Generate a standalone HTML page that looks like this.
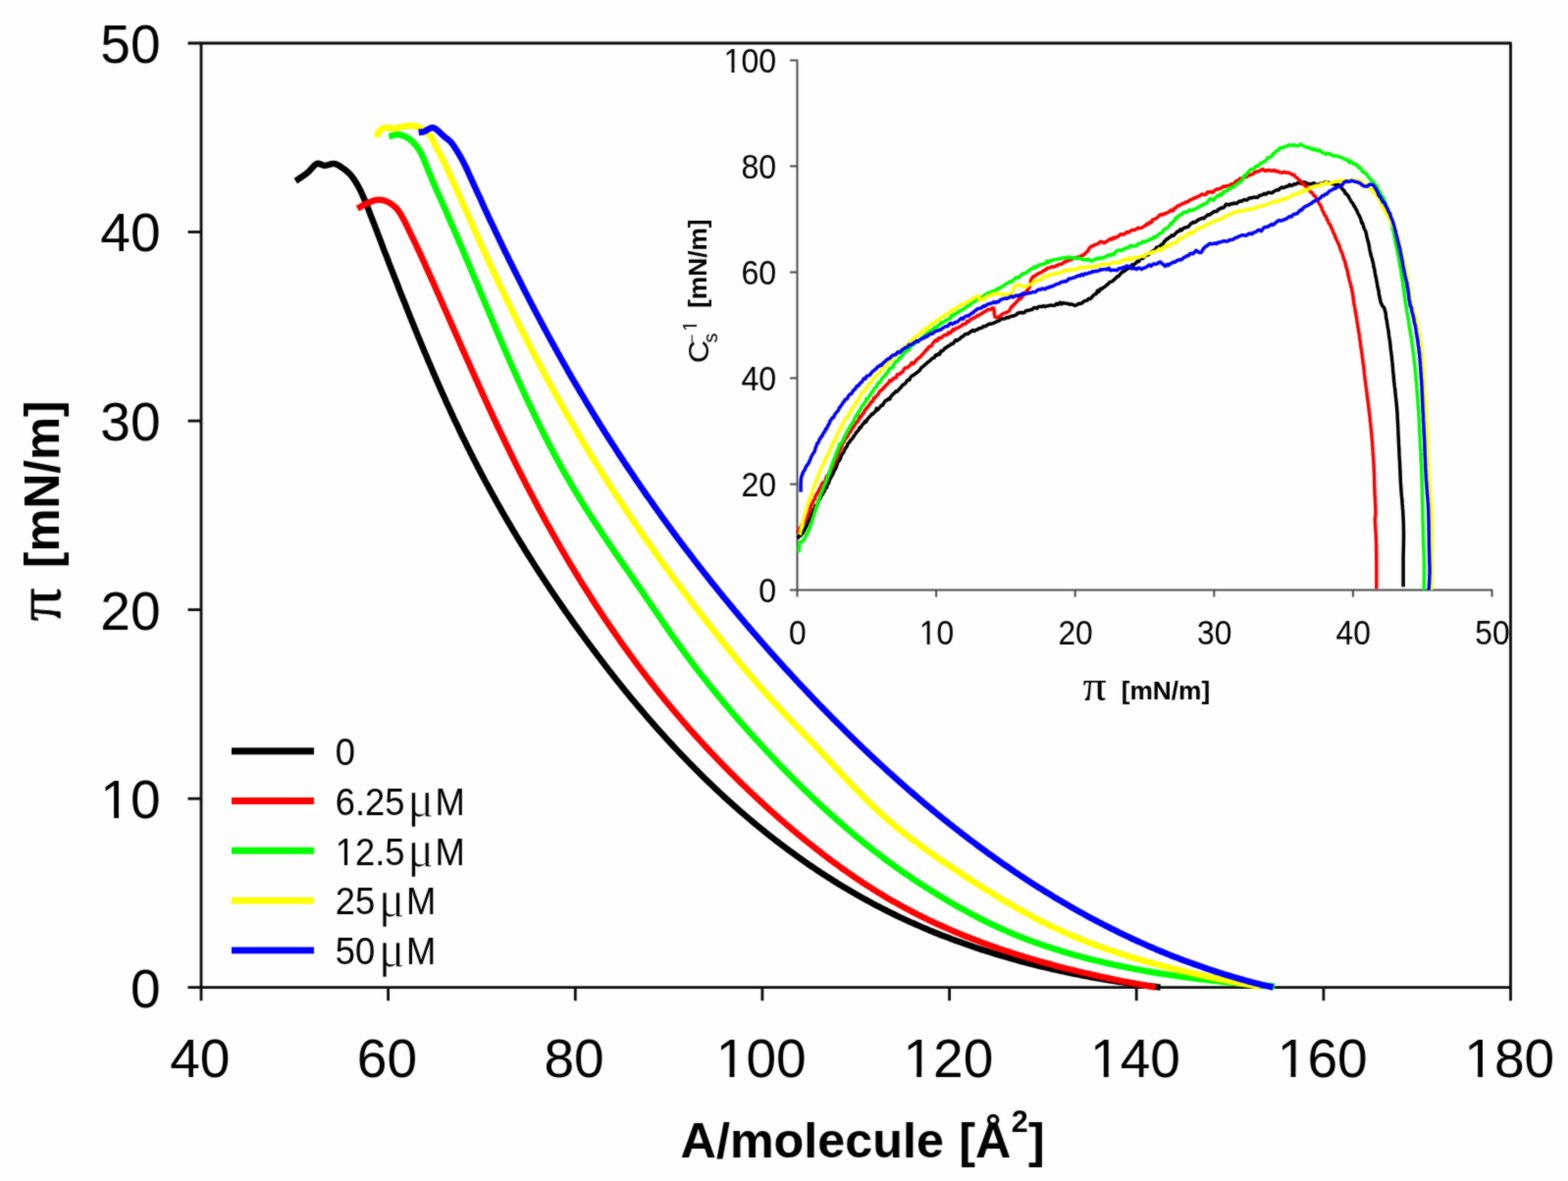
<!DOCTYPE html>
<html lang="en"><head><meta charset="utf-8"><title>Isotherms</title>
<style>html,body{margin:0;padding:0;background:#fefefe;}svg{display:block;}text{font-family:"Liberation Sans",sans-serif;fill:#000;}.sym{font-family:"Liberation Serif","DejaVu Serif",serif;}.b{font-weight:bold;}</style></head><body>
<svg width="1598" height="1204" viewBox="0 0 1598 1204">
<defs><filter id="soft" x="0" y="0" width="1598" height="1204" filterUnits="userSpaceOnUse" color-interpolation-filters="sRGB"><feConvolveMatrix order="3" kernelMatrix="1 2 1 2 12 2 1 2 1" edgeMode="duplicate" preserveAlpha="true"/></filter></defs>
<rect width="1598" height="1204" fill="#fefefe"/>
<g filter="url(#soft)">
<rect width="1598" height="1204" fill="#fefefe"/>
<g stroke="#0c0c0c" stroke-width="2.8" fill="none" stroke-linecap="butt">
<path d="M191.5 44.0 H1539.5 V1020.2" stroke-linejoin="round"/>
<path d="M205.0 44.0 V1020.2"/>
<path d="M191.5 1006.7 H1539.5"/>
<path d="M191.5 236.5 H205.0"/>
<path d="M191.5 429.1 H205.0"/>
<path d="M191.5 621.6 H205.0"/>
<path d="M191.5 814.2 H205.0"/>
<path d="M395.6 1006.7 V1020.2"/>
<path d="M586.3 1006.7 V1020.2"/>
<path d="M776.9 1006.7 V1020.2"/>
<path d="M967.6 1006.7 V1020.2"/>
<path d="M1158.2 1006.7 V1020.2"/>
<path d="M1348.9 1006.7 V1020.2"/>
</g>
<g fill="none" stroke-width="6.4" stroke-linejoin="round" stroke-linecap="butt">
<path stroke="#000000" d="M301.3 184.5 L303.3 183.2 L305.3 181.8 L307.3 180.5 L309.2 179.2 L311.2 177.8 L313.0 176.4 L314.8 174.8 L316.5 172.9 L318.1 171.1 L319.7 169.4 L321.3 167.9 L322.8 167.0 L324.2 166.7 L325.5 166.9 L326.8 167.4 L328.1 168.1 L329.4 168.6 L330.8 168.8 L332.3 168.6 L334.0 168.2 L335.6 167.7 L337.3 167.3 L338.9 166.9 L340.4 166.9 L341.7 167.1 L343.0 167.5 L344.1 168.1 L345.3 168.7 L346.5 169.5 L347.8 170.4 L349.2 171.4 L350.7 172.4 L352.3 173.6 L353.9 174.9 L355.4 176.3 L356.9 177.8 L358.3 179.5 L359.7 181.3 L361.1 183.3 L362.4 185.4 L363.7 187.5 L364.9 189.6 L366.0 191.7 L367.1 193.7 L368.1 195.8 L369.1 198.0 L370.1 200.4 L371.3 203.1 L372.6 206.1 L373.9 209.4 L375.3 212.9 L376.7 216.6 L378.1 220.3 L379.6 224.1 L381.2 228.2 L382.9 232.6 L384.6 237.1 L386.2 241.4 L387.7 245.2 L388.8 248.2 L388.8 248.2 L389.9 251.0 L390.9 253.8 L392.0 256.6 L393.1 259.4 L394.2 262.2 L395.3 265.0 L396.3 267.8 L397.4 270.6 L398.5 273.4 L399.6 276.2 L400.7 279.0 L401.8 281.8 L402.9 284.6 L404.0 287.4 L405.1 290.2 L406.1 293.0 L407.2 295.8 L408.3 298.6 L409.4 301.4 L410.5 304.2 L411.7 306.9 L412.8 309.7 L413.9 312.5 L415.0 315.3 L416.1 318.1 L417.2 320.9 L418.3 323.7 L419.5 326.5 L420.6 329.2 L421.7 332.0 L422.8 334.8 L424.0 337.6 L425.1 340.4 L426.2 343.1 L427.4 345.9 L428.5 348.7 L429.7 351.5 L430.8 354.2 L432.0 357.0 L433.1 359.8 L434.3 362.5 L435.5 365.3 L436.6 368.1 L437.8 370.8 L439.0 373.6 L440.2 376.3 L441.3 379.1 L442.5 381.8 L443.7 384.6 L444.9 387.3 L446.1 390.1 L447.3 392.8 L448.5 395.6 L449.7 398.3 L451.0 401.1 L452.2 403.8 L453.4 406.5 L454.6 409.3 L455.9 412.0 L457.1 414.7 L458.4 417.4 L459.6 420.1 L460.9 422.9 L462.1 425.6 L463.4 428.3 L464.7 431.0 L466.0 433.7 L467.3 436.4 L468.5 439.1 L469.8 441.8 L471.1 444.5 L472.5 447.2 L473.8 449.9 L475.1 452.6 L476.4 455.3 L477.7 457.9 L479.1 460.6 L480.4 463.3 L481.8 466.0 L483.1 468.6 L484.5 471.3 L485.9 474.0 L487.2 476.6 L488.6 479.3 L490.0 481.9 L491.4 484.6 L492.8 487.2 L494.2 489.9 L495.6 492.5 L497.1 495.1 L498.5 497.8 L499.9 500.4 L501.4 503.0 L502.8 505.6 L504.3 508.2 L505.7 510.9 L507.2 513.5 L508.7 516.1 L510.2 518.7 L511.6 521.3 L513.1 523.9 L514.6 526.5 L516.1 529.1 L517.6 531.6 L519.2 534.2 L520.7 536.8 L522.2 539.4 L523.7 542.0 L525.3 544.5 L526.8 547.1 L528.4 549.7 L529.9 552.2 L531.5 554.8 L533.1 557.3 L534.6 559.9 L536.2 562.4 L537.8 565.0 L539.4 567.5 L541.0 570.0 L542.6 572.6 L544.2 575.1 L545.8 577.6 L547.5 580.2 L549.1 582.7 L550.7 585.2 L552.4 587.7 L554.0 590.2 L555.7 592.7 L557.3 595.2 L559.0 597.7 L560.6 600.2 L562.3 602.7 L564.0 605.2 L565.7 607.7 L567.4 610.2 L569.1 612.7 L570.8 615.1 L572.5 617.6 L574.2 620.1 L575.9 622.6 L577.6 625.0 L579.3 627.5 L581.1 629.9 L582.8 632.4 L584.5 634.8 L586.3 637.3 L588.0 639.7 L589.8 642.2 L591.6 644.6 L593.3 647.0 L595.1 649.5 L596.9 651.9 L598.7 654.3 L600.5 656.8 L602.3 659.2 L604.1 661.6 L605.9 664.0 L607.7 666.4 L609.5 668.8 L611.3 671.2 L613.1 673.6 L615.0 676.0 L616.8 678.4 L618.7 680.8 L620.5 683.2 L622.4 685.5 L624.2 687.9 L626.1 690.3 L627.9 692.6 L629.8 695.0 L631.7 697.3 L633.6 699.7 L635.5 702.0 L637.4 704.4 L639.3 706.7 L641.2 709.0 L643.1 711.4 L645.0 713.7 L647.0 716.0 L648.9 718.3 L650.8 720.6 L652.8 722.9 L654.7 725.2 L656.7 727.5 L658.6 729.8 L660.6 732.1 L662.6 734.4 L664.6 736.6 L666.5 738.9 L668.5 741.1 L670.5 743.4 L672.5 745.6 L674.6 747.9 L676.6 750.1 L678.6 752.3 L680.6 754.6 L682.7 756.8 L684.7 759.0 L686.7 761.2 L688.8 763.4 L690.9 765.6 L692.9 767.8 L695.0 770.0 L697.1 772.1 L699.2 774.3 L701.2 776.4 L703.3 778.6 L705.5 780.7 L707.6 782.9 L709.7 785.0 L711.8 787.1 L713.9 789.3 L716.1 791.4 L718.2 793.5 L720.4 795.6 L722.5 797.7 L724.7 799.7 L726.9 801.8 L729.0 803.9 L731.2 805.9 L733.4 808.0 L735.6 810.0 L737.8 812.1 L740.0 814.1 L742.2 816.1 L744.5 818.1 L746.7 820.1 L748.9 822.1 L751.2 824.1 L753.4 826.1 L755.7 828.1 L758.0 830.0 L760.2 832.0 L762.5 833.9 L764.8 835.9 L767.1 837.8 L769.4 839.7 L771.7 841.6 L774.0 843.5 L776.3 845.4 L778.7 847.3 L781.0 849.2 L783.3 851.0 L785.7 852.9 L788.1 854.7 L790.4 856.6 L792.8 858.4 L795.2 860.2 L797.5 862.0 L799.9 863.8 L802.3 865.6 L804.7 867.4 L807.2 869.2 L809.6 870.9 L812.0 872.7 L814.4 874.4 L816.9 876.2 L819.3 877.9 L821.8 879.6 L824.2 881.3 L826.7 883.0 L829.2 884.7 L831.6 886.3 L834.1 888.0 L836.6 889.7 L839.1 891.3 L841.6 892.9 L844.1 894.5 L846.7 896.1 L849.2 897.7 L851.7 899.3 L854.3 900.9 L856.8 902.4 L859.3 904.0 L861.9 905.5 L864.5 907.1 L867.0 908.6 L869.6 910.1 L872.2 911.6 L874.8 913.0 L877.4 914.5 L880.0 916.0 L882.6 917.4 L885.2 918.8 L887.9 920.3 L890.5 921.7 L893.1 923.1 L895.8 924.4 L898.4 925.8 L901.1 927.2 L903.8 928.5 L906.4 929.9 L909.1 931.2 L911.8 932.5 L914.5 933.8 L917.2 935.1 L919.9 936.3 L922.6 937.6 L925.3 938.8 L928.0 940.1 L930.8 941.3 L933.5 942.5 L936.2 943.7 L939.0 944.9 L941.7 946.1 L944.5 947.2 L947.2 948.4 L950.0 949.5 L952.8 950.7 L955.5 951.8 L958.3 952.9 L961.1 954.0 L963.9 955.1 L966.7 956.1 L969.5 957.2 L972.3 958.2 L975.1 959.3 L977.9 960.3 L980.8 961.3 L983.6 962.3 L986.4 963.3 L989.3 964.3 L992.1 965.3 L994.9 966.2 L997.8 967.2 L1000.6 968.1 L1003.5 969.0 L1006.4 969.9 L1009.2 970.8 L1012.1 971.7 L1015.0 972.6 L1017.8 973.5 L1020.7 974.3 L1023.6 975.2 L1026.5 976.0 L1029.4 976.9 L1032.3 977.7 L1035.2 978.5 L1038.1 979.3 L1041.0 980.1 L1043.9 980.9 L1046.8 981.6 L1049.7 982.4 L1052.6 983.1 L1055.5 983.9 L1058.4 984.6 L1061.4 985.3 L1064.3 986.0 L1067.2 986.7 L1070.2 987.4 L1073.1 988.1 L1076.0 988.7 L1079.0 989.4 L1081.9 990.0 L1084.9 990.7 L1087.8 991.3 L1090.8 991.9 L1093.7 992.5 L1096.7 993.1 L1099.6 993.7 L1102.6 994.3 L1105.5 994.9 L1108.5 995.4 L1111.4 996.0 L1114.4 996.5 L1117.4 997.1 L1120.3 997.6 L1123.3 998.1 L1126.3 998.6 L1129.2 999.1 L1132.2 999.6 L1135.2 1000.1 L1138.2 1000.5 L1141.1 1001.0 L1144.1 1001.4 L1147.1 1001.9 L1150.1 1002.3 L1153.0 1002.7 L1156.0 1003.2 L1159.0 1003.6 L1162.0 1004.0 L1164.9 1004.4 L1167.9 1004.7 L1170.9 1005.1 L1173.9 1005.5 L1176.9 1005.8 L1179.8 1006.2 L1182.6 1006.5"/>
<path stroke="#ff0000" d="M364.3 212.6 L365.7 211.8 L367.2 211.0 L368.6 210.1 L370.0 209.3 L371.5 208.5 L373.1 207.8 L374.8 207.0 L376.5 206.2 L378.3 205.5 L380.1 204.8 L381.9 204.2 L383.6 203.9 L385.3 203.7 L387.0 203.7 L388.6 203.9 L390.3 204.2 L391.9 204.6 L393.6 205.2 L395.3 206.0 L397.1 206.9 L398.8 208.0 L400.6 209.3 L402.2 210.7 L403.8 212.2 L405.2 213.9 L406.6 215.7 L407.9 217.6 L409.1 219.8 L410.4 222.1 L411.8 224.6 L413.3 227.6 L415.0 231.0 L416.7 234.6 L418.4 238.1 L419.8 241.2 L421.0 243.7 L421.1 243.6 L422.4 246.3 L423.7 249.1 L424.9 251.8 L426.2 254.5 L427.5 257.2 L428.7 260.0 L430.0 262.7 L431.2 265.4 L432.5 268.1 L433.7 270.9 L434.9 273.6 L436.2 276.4 L437.4 279.1 L438.6 281.8 L439.9 284.6 L441.1 287.3 L442.3 290.0 L443.5 292.8 L444.7 295.5 L446.0 298.3 L447.2 301.0 L448.4 303.8 L449.6 306.5 L450.8 309.2 L452.0 312.0 L453.2 314.7 L454.5 317.5 L455.7 320.2 L456.9 323.0 L458.1 325.7 L459.3 328.4 L460.5 331.2 L461.7 333.9 L462.9 336.7 L464.1 339.4 L465.3 342.2 L466.6 344.9 L467.8 347.6 L469.0 350.4 L470.2 353.1 L471.4 355.9 L472.6 358.6 L473.8 361.3 L475.0 364.1 L476.3 366.8 L477.5 369.6 L478.7 372.3 L479.9 375.0 L481.1 377.8 L482.4 380.5 L483.6 383.2 L484.8 386.0 L486.1 388.7 L487.3 391.4 L488.5 394.2 L489.8 396.9 L491.0 399.6 L492.2 402.4 L493.5 405.1 L494.7 407.8 L496.0 410.5 L497.2 413.3 L498.5 416.0 L499.7 418.7 L501.0 421.4 L502.2 424.1 L503.5 426.9 L504.8 429.6 L506.0 432.3 L507.3 435.0 L508.6 437.7 L509.9 440.4 L511.2 443.1 L512.5 445.8 L513.8 448.5 L515.1 451.3 L516.4 454.0 L517.7 456.7 L519.0 459.4 L520.3 462.0 L521.6 464.7 L522.9 467.4 L524.3 470.1 L525.6 472.8 L526.9 475.5 L528.3 478.2 L529.6 480.9 L531.0 483.5 L532.3 486.2 L533.7 488.9 L535.1 491.6 L536.4 494.2 L537.8 496.9 L539.2 499.6 L540.6 502.2 L542.0 504.9 L543.4 507.6 L544.8 510.2 L546.2 512.9 L547.6 515.5 L549.0 518.2 L550.4 520.8 L551.9 523.4 L553.3 526.1 L554.7 528.7 L556.2 531.4 L557.6 534.0 L559.1 536.6 L560.6 539.2 L562.0 541.9 L563.5 544.5 L565.0 547.1 L566.5 549.7 L567.9 552.3 L569.4 554.9 L570.9 557.5 L572.4 560.1 L574.0 562.7 L575.5 565.3 L577.0 567.9 L578.5 570.5 L580.0 573.1 L581.6 575.7 L583.1 578.2 L584.7 580.8 L586.2 583.4 L587.8 585.9 L589.4 588.5 L590.9 591.1 L592.5 593.6 L594.1 596.2 L595.7 598.7 L597.3 601.3 L598.9 603.8 L600.5 606.3 L602.1 608.9 L603.7 611.4 L605.4 613.9 L607.0 616.4 L608.6 618.9 L610.3 621.5 L611.9 624.0 L613.6 626.5 L615.2 629.0 L616.9 631.5 L618.6 633.9 L620.3 636.4 L622.0 638.9 L623.7 641.4 L625.4 643.8 L627.1 646.3 L628.8 648.8 L630.5 651.2 L632.2 653.7 L633.9 656.1 L635.7 658.6 L637.4 661.0 L639.2 663.4 L640.9 665.9 L642.7 668.3 L644.5 670.7 L646.3 673.1 L648.0 675.5 L649.8 677.9 L651.6 680.3 L653.4 682.7 L655.2 685.1 L657.1 687.5 L658.9 689.9 L660.7 692.3 L662.6 694.6 L664.4 697.0 L666.3 699.3 L668.1 701.7 L670.0 704.0 L671.8 706.4 L673.7 708.7 L675.6 711.0 L677.5 713.4 L679.4 715.7 L681.3 718.0 L683.2 720.3 L685.1 722.6 L687.1 724.9 L689.0 727.2 L690.9 729.5 L692.9 731.7 L694.8 734.0 L696.8 736.3 L698.8 738.5 L700.7 740.8 L702.7 743.1 L704.7 745.3 L706.7 747.5 L708.7 749.8 L710.7 752.0 L712.7 754.2 L714.7 756.4 L716.8 758.6 L718.8 760.8 L720.8 763.0 L722.9 765.2 L724.9 767.4 L727.0 769.6 L729.1 771.8 L731.1 773.9 L733.2 776.1 L735.3 778.2 L737.4 780.4 L739.5 782.5 L741.6 784.7 L743.7 786.8 L745.8 788.9 L748.0 791.1 L750.1 793.2 L752.2 795.3 L754.4 797.4 L756.5 799.5 L758.7 801.5 L760.8 803.6 L763.0 805.7 L765.2 807.8 L767.4 809.8 L769.6 811.9 L771.7 813.9 L773.9 816.0 L776.2 818.0 L778.4 820.1 L780.6 822.1 L782.8 824.1 L785.0 826.1 L787.3 828.1 L789.5 830.1 L791.8 832.1 L794.0 834.1 L796.3 836.1 L798.6 838.0 L800.8 840.0 L803.1 842.0 L805.4 843.9 L807.7 845.9 L810.0 847.8 L812.3 849.7 L814.6 851.6 L817.0 853.6 L819.3 855.5 L821.6 857.4 L824.0 859.3 L826.3 861.1 L828.7 863.0 L831.0 864.9 L833.4 866.7 L835.8 868.6 L838.1 870.4 L840.5 872.2 L842.9 874.1 L845.3 875.9 L847.7 877.7 L850.1 879.5 L852.6 881.2 L855.0 883.0 L857.4 884.8 L859.9 886.5 L862.3 888.2 L864.8 890.0 L867.2 891.7 L869.7 893.4 L872.2 895.1 L874.7 896.7 L877.1 898.4 L879.6 900.1 L882.2 901.7 L884.7 903.3 L887.2 904.9 L889.7 906.5 L892.2 908.1 L894.8 909.7 L897.3 911.3 L899.9 912.8 L902.5 914.4 L905.0 915.9 L907.6 917.4 L910.2 918.9 L912.8 920.3 L915.4 921.8 L918.0 923.3 L920.6 924.7 L923.3 926.1 L925.9 927.5 L928.5 928.9 L931.2 930.3 L933.8 931.6 L936.5 933.0 L939.2 934.3 L941.9 935.7 L944.5 937.0 L947.2 938.3 L949.9 939.5 L952.6 940.8 L955.3 942.1 L958.1 943.3 L960.8 944.5 L963.5 945.7 L966.2 946.9 L969.0 948.1 L971.7 949.3 L974.5 950.5 L977.2 951.6 L980.0 952.8 L982.8 953.9 L985.5 955.0 L988.3 956.1 L991.1 957.2 L993.9 958.3 L996.7 959.3 L999.5 960.4 L1002.3 961.4 L1005.1 962.5 L1007.9 963.5 L1010.7 964.5 L1013.6 965.5 L1016.4 966.5 L1019.2 967.5 L1022.1 968.4 L1024.9 969.4 L1027.8 970.3 L1030.6 971.3 L1033.5 972.2 L1036.3 973.1 L1039.2 974.0 L1042.1 974.9 L1044.9 975.8 L1047.8 976.6 L1050.7 977.5 L1053.6 978.3 L1056.4 979.2 L1059.3 980.0 L1062.2 980.8 L1065.1 981.6 L1068.0 982.4 L1070.9 983.2 L1073.8 984.0 L1076.7 984.8 L1079.6 985.6 L1082.5 986.3 L1085.4 987.1 L1088.4 987.8 L1091.3 988.5 L1094.2 989.2 L1097.1 990.0 L1100.0 990.7 L1103.0 991.3 L1105.9 992.0 L1108.8 992.7 L1111.8 993.4 L1114.7 994.0 L1117.6 994.7 L1120.6 995.4 L1123.5 996.0 L1126.4 996.6 L1129.4 997.2 L1132.3 997.9 L1135.2 998.5 L1138.2 999.1 L1141.1 999.7 L1144.1 1000.3 L1147.0 1000.8 L1150.0 1001.4 L1152.9 1002.0 L1155.9 1002.5 L1158.8 1003.1 L1161.8 1003.6 L1164.7 1004.2 L1167.6 1004.7 L1170.6 1005.3 L1173.5 1005.8 L1176.5 1006.3 L1178.1 1006.6"/>
<path stroke="#00ff00" d="M396.4 139.3 L397.8 138.9 L399.1 138.4 L400.5 138.0 L401.9 137.6 L403.3 137.3 L404.7 137.2 L406.1 137.3 L407.6 137.5 L409.1 137.8 L410.6 138.2 L412.0 138.8 L413.5 139.5 L414.9 140.3 L416.4 141.3 L417.9 142.3 L419.3 143.5 L420.7 144.8 L422.0 146.2 L423.3 147.6 L424.5 149.2 L425.7 150.8 L426.9 152.5 L428.0 154.5 L429.2 156.6 L430.4 159.0 L431.5 161.6 L432.7 164.4 L433.8 167.3 L435.0 170.2 L436.2 173.1 L437.4 175.9 L438.5 178.8 L439.7 181.6 L440.9 184.6 L442.3 187.7 L443.7 191.1 L445.4 195.0 L447.3 199.3 L449.4 203.9 L451.3 208.2 L453.1 212.1 L454.4 215.1 L454.3 215.1 L455.5 217.9 L456.7 220.6 L457.9 223.4 L459.1 226.1 L460.3 228.9 L461.5 231.6 L462.7 234.4 L463.9 237.1 L465.1 239.9 L466.3 242.6 L467.5 245.4 L468.6 248.1 L469.8 250.9 L471.0 253.6 L472.2 256.4 L473.3 259.1 L474.5 261.9 L475.7 264.7 L476.8 267.4 L478.0 270.2 L479.2 273.0 L480.3 275.7 L481.5 278.5 L482.7 281.2 L483.8 284.0 L485.0 286.8 L486.2 289.6 L487.3 292.3 L488.5 295.1 L489.6 297.9 L490.8 300.6 L492.0 303.4 L493.1 306.2 L494.3 308.9 L495.4 311.7 L496.6 314.5 L497.8 317.3 L498.9 320.0 L500.1 322.8 L501.3 325.6 L502.4 328.3 L503.6 331.1 L504.8 333.9 L506.0 336.6 L507.1 339.4 L508.3 342.2 L509.5 344.9 L510.7 347.7 L511.9 350.5 L513.0 353.2 L514.2 356.0 L515.4 358.8 L516.6 361.5 L517.8 364.3 L519.0 367.0 L520.2 369.8 L521.4 372.5 L522.6 375.3 L523.9 378.0 L525.1 380.8 L526.3 383.5 L527.5 386.2 L528.8 389.0 L530.0 391.7 L531.3 394.5 L532.5 397.2 L533.8 399.9 L535.0 402.6 L536.3 405.4 L537.5 408.1 L538.8 410.8 L540.1 413.5 L541.4 416.2 L542.7 418.9 L544.0 421.6 L545.3 424.3 L546.6 427.0 L547.9 429.7 L549.2 432.4 L550.5 435.1 L551.9 437.8 L553.2 440.5 L554.6 443.2 L555.9 445.8 L557.3 448.5 L558.6 451.2 L560.0 453.8 L561.4 456.5 L562.8 459.1 L564.2 461.8 L565.6 464.4 L567.0 467.0 L568.5 469.7 L569.9 472.3 L571.3 474.9 L572.8 477.5 L574.2 480.2 L575.7 482.8 L577.2 485.4 L578.7 488.0 L580.2 490.6 L581.7 493.1 L583.2 495.7 L584.7 498.3 L586.3 500.9 L587.8 503.4 L589.4 506.0 L590.9 508.5 L592.5 511.1 L594.1 513.6 L595.7 516.2 L597.3 518.7 L598.9 521.2 L600.5 523.7 L602.1 526.3 L603.7 528.8 L605.4 531.3 L607.0 533.8 L608.7 536.3 L610.3 538.8 L612.0 541.3 L613.6 543.8 L615.3 546.3 L617.0 548.8 L618.7 551.3 L620.3 553.8 L622.0 556.2 L623.7 558.7 L625.4 561.2 L627.1 563.7 L628.8 566.2 L630.5 568.6 L632.2 571.1 L633.9 573.6 L635.6 576.1 L637.3 578.5 L639.0 581.0 L640.8 583.5 L642.5 585.9 L644.2 588.4 L645.9 590.9 L647.6 593.4 L649.3 595.8 L651.0 598.3 L652.7 600.8 L654.4 603.3 L656.1 605.7 L657.8 608.2 L659.5 610.7 L661.2 613.2 L662.9 615.7 L664.6 618.1 L666.3 620.6 L668.0 623.1 L669.7 625.6 L671.4 628.1 L673.1 630.5 L674.8 633.0 L676.4 635.5 L678.1 638.0 L679.9 640.4 L681.6 642.9 L683.3 645.4 L685.0 647.8 L686.7 650.3 L688.5 652.7 L690.2 655.2 L691.9 657.6 L693.7 660.0 L695.5 662.4 L697.2 664.9 L699.0 667.3 L700.8 669.7 L702.6 672.1 L704.4 674.5 L706.2 676.9 L708.0 679.2 L709.8 681.6 L711.6 684.0 L713.5 686.4 L715.3 688.7 L717.2 691.1 L719.0 693.4 L720.9 695.8 L722.7 698.1 L724.6 700.4 L726.5 702.8 L728.4 705.1 L730.3 707.4 L732.2 709.7 L734.1 712.0 L736.0 714.3 L737.9 716.6 L739.8 718.9 L741.8 721.2 L743.7 723.5 L745.7 725.8 L747.6 728.0 L749.6 730.3 L751.5 732.6 L753.5 734.8 L755.5 737.1 L757.5 739.3 L759.5 741.6 L761.4 743.8 L763.4 746.1 L765.4 748.3 L767.5 750.5 L769.5 752.8 L771.5 755.0 L773.5 757.2 L775.5 759.4 L777.6 761.6 L779.6 763.8 L781.7 766.1 L783.7 768.2 L785.8 770.4 L787.8 772.6 L789.9 774.8 L792.0 777.0 L794.0 779.2 L796.1 781.3 L798.2 783.5 L800.3 785.6 L802.4 787.8 L804.5 789.9 L806.6 792.1 L808.7 794.2 L810.9 796.3 L813.0 798.5 L815.1 800.6 L817.3 802.7 L819.4 804.8 L821.6 806.9 L823.8 809.0 L825.9 811.0 L828.1 813.1 L830.3 815.2 L832.5 817.2 L834.7 819.3 L836.9 821.3 L839.1 823.4 L841.3 825.4 L843.5 827.4 L845.7 829.4 L847.9 831.4 L850.2 833.4 L852.4 835.4 L854.7 837.4 L856.9 839.4 L859.2 841.4 L861.5 843.3 L863.8 845.3 L866.0 847.2 L868.3 849.1 L870.6 851.1 L872.9 853.0 L875.2 854.9 L877.6 856.8 L879.9 858.7 L882.2 860.6 L884.6 862.4 L886.9 864.3 L889.3 866.1 L891.6 868.0 L894.0 869.8 L896.4 871.6 L898.8 873.5 L901.1 875.3 L903.5 877.1 L905.9 878.8 L908.4 880.6 L910.8 882.4 L913.2 884.1 L915.6 885.9 L918.1 887.6 L920.5 889.3 L923.0 891.0 L925.5 892.7 L928.0 894.4 L930.4 896.1 L932.9 897.7 L935.4 899.4 L937.9 901.0 L940.5 902.6 L943.0 904.3 L945.5 905.9 L948.1 907.5 L950.6 909.1 L953.2 910.6 L955.7 912.2 L958.3 913.8 L960.8 915.3 L963.4 916.8 L966.0 918.4 L968.6 919.9 L971.2 921.4 L973.8 922.9 L976.4 924.4 L979.0 925.9 L981.6 927.3 L984.3 928.8 L986.9 930.2 L989.5 931.6 L992.2 933.0 L994.8 934.4 L997.5 935.8 L1000.1 937.2 L1002.8 938.5 L1005.5 939.8 L1008.2 941.2 L1010.9 942.5 L1013.6 943.7 L1016.3 945.0 L1019.0 946.2 L1021.7 947.5 L1024.4 948.7 L1027.2 949.9 L1029.9 951.0 L1032.7 952.2 L1035.4 953.3 L1038.2 954.4 L1041.0 955.5 L1043.7 956.6 L1046.5 957.7 L1049.3 958.7 L1052.1 959.8 L1054.9 960.8 L1057.7 961.8 L1060.5 962.8 L1063.3 963.7 L1066.2 964.7 L1069.0 965.6 L1071.8 966.6 L1074.7 967.5 L1077.5 968.4 L1080.4 969.2 L1083.2 970.1 L1086.1 971.0 L1089.0 971.8 L1091.8 972.6 L1094.7 973.5 L1097.6 974.3 L1100.5 975.0 L1103.4 975.8 L1106.3 976.6 L1109.2 977.3 L1112.1 978.1 L1115.0 978.8 L1117.9 979.5 L1120.8 980.2 L1123.7 980.9 L1126.6 981.6 L1129.6 982.3 L1132.5 982.9 L1135.4 983.6 L1138.4 984.2 L1141.3 984.8 L1144.2 985.4 L1147.2 986.0 L1150.1 986.6 L1153.1 987.2 L1156.0 987.8 L1159.0 988.3 L1161.9 988.9 L1164.9 989.4 L1167.9 990.0 L1170.8 990.5 L1173.8 991.0 L1176.8 991.5 L1179.7 992.0 L1182.7 992.5 L1185.7 992.9 L1188.7 993.4 L1191.6 993.9 L1194.6 994.3 L1197.6 994.7 L1200.6 995.2 L1203.5 995.6 L1206.5 996.0 L1209.5 996.4 L1212.5 996.8 L1215.5 997.2 L1218.4 997.6 L1221.4 998.0 L1224.4 998.3 L1227.4 998.7 L1230.4 999.0 L1233.4 999.4 L1236.3 999.7 L1239.3 1000.1 L1242.3 1000.4 L1245.3 1000.7 L1248.3 1001.0 L1251.2 1001.3 L1254.2 1001.6 L1257.2 1001.9 L1260.2 1002.2 L1263.1 1002.5 L1266.1 1002.8 L1269.1 1003.0 L1272.1 1003.3 L1275.0 1003.6 L1278.0 1003.8 L1281.0 1004.1 L1283.9 1004.3 L1286.9 1004.6 L1289.9 1004.8 L1292.8 1005.0 L1295.8 1005.3 L1298.7 1005.5 L1299.0 1005.5"/>
<path stroke="#ffff00" d="M384.2 140.0 L384.4 139.0 L384.6 138.1 L384.8 137.1 L385.0 136.2 L385.4 135.2 L385.9 134.4 L386.6 133.6 L387.4 132.7 L388.4 132.0 L389.4 131.3 L390.6 130.7 L392.0 130.3 L393.6 130.2 L395.4 130.3 L397.4 130.5 L399.4 130.8 L401.4 131.0 L403.2 131.0 L404.8 130.8 L406.3 130.3 L407.7 129.8 L409.2 129.3 L410.6 128.9 L412.2 128.6 L413.9 128.4 L415.7 128.3 L417.6 128.2 L419.4 128.2 L421.1 128.3 L422.7 128.5 L424.1 128.8 L425.3 129.1 L426.5 129.6 L427.6 130.1 L428.7 130.8 L430.0 131.6 L431.4 132.5 L432.9 133.6 L434.4 134.8 L435.9 136.0 L437.3 137.4 L438.6 138.8 L439.6 140.3 L440.5 141.8 L441.3 143.4 L442.1 145.1 L443.0 147.0 L444.0 149.1 L445.2 151.4 L446.6 153.9 L448.0 156.6 L449.5 159.4 L451.0 162.4 L452.6 165.6 L454.2 169.0 L455.9 172.6 L457.7 176.4 L459.5 180.3 L461.2 184.2 L463.0 188.1 L464.8 192.2 L466.8 196.7 L468.8 201.2 L470.7 205.4 L472.3 209.2 L473.6 212.1 L473.6 212.1 L474.9 214.8 L476.1 217.6 L477.3 220.3 L478.5 223.0 L479.7 225.8 L481.0 228.5 L482.2 231.3 L483.4 234.0 L484.6 236.7 L485.8 239.5 L487.1 242.2 L488.3 245.0 L489.5 247.7 L490.7 250.4 L492.0 253.2 L493.2 255.9 L494.5 258.6 L495.7 261.4 L496.9 264.1 L498.2 266.8 L499.4 269.5 L500.7 272.3 L502.0 275.0 L503.2 277.7 L504.5 280.4 L505.8 283.2 L507.0 285.9 L508.3 288.6 L509.6 291.3 L510.9 294.0 L512.2 296.7 L513.5 299.4 L514.8 302.1 L516.1 304.8 L517.4 307.5 L518.7 310.2 L520.0 312.9 L521.3 315.6 L522.6 318.3 L523.9 321.0 L525.3 323.7 L526.6 326.4 L527.9 329.1 L529.3 331.8 L530.6 334.5 L532.0 337.1 L533.3 339.8 L534.7 342.5 L536.0 345.2 L537.4 347.9 L538.8 350.5 L540.1 353.2 L541.5 355.9 L542.9 358.5 L544.3 361.2 L545.7 363.8 L547.1 366.5 L548.5 369.2 L549.9 371.8 L551.3 374.5 L552.7 377.1 L554.1 379.8 L555.5 382.4 L556.9 385.0 L558.4 387.7 L559.8 390.3 L561.2 393.0 L562.7 395.6 L564.1 398.2 L565.5 400.8 L567.0 403.5 L568.5 406.1 L569.9 408.7 L571.4 411.3 L572.9 413.9 L574.3 416.6 L575.8 419.2 L577.3 421.8 L578.8 424.4 L580.3 427.0 L581.8 429.6 L583.3 432.2 L584.8 434.8 L586.3 437.4 L587.8 440.0 L589.3 442.5 L590.8 445.1 L592.4 447.7 L593.9 450.3 L595.4 452.9 L597.0 455.4 L598.5 458.0 L600.1 460.6 L601.6 463.1 L603.2 465.7 L604.8 468.2 L606.3 470.8 L607.9 473.3 L609.5 475.9 L611.1 478.4 L612.7 481.0 L614.3 483.5 L615.9 486.1 L617.5 488.6 L619.1 491.1 L620.7 493.6 L622.3 496.2 L623.9 498.7 L625.6 501.2 L627.2 503.7 L628.8 506.2 L630.5 508.8 L632.1 511.3 L633.8 513.8 L635.4 516.3 L637.1 518.8 L638.7 521.3 L640.4 523.8 L642.1 526.2 L643.8 528.7 L645.4 531.2 L647.1 533.7 L648.8 536.2 L650.5 538.7 L652.2 541.1 L653.9 543.6 L655.6 546.1 L657.3 548.5 L659.0 551.0 L660.7 553.4 L662.5 555.9 L664.2 558.4 L665.9 560.8 L667.7 563.3 L669.4 565.7 L671.1 568.1 L672.9 570.6 L674.6 573.0 L676.4 575.5 L678.1 577.9 L679.9 580.3 L681.7 582.7 L683.4 585.2 L685.2 587.6 L687.0 590.0 L688.8 592.4 L690.5 594.8 L692.3 597.2 L694.1 599.6 L695.9 602.0 L697.7 604.4 L699.5 606.8 L701.3 609.2 L703.1 611.6 L704.9 614.0 L706.8 616.4 L708.6 618.8 L710.4 621.2 L712.2 623.5 L714.1 625.9 L715.9 628.3 L717.7 630.7 L719.6 633.0 L721.4 635.4 L723.3 637.8 L725.1 640.1 L727.0 642.5 L728.8 644.8 L730.7 647.2 L732.6 649.5 L734.4 651.9 L736.3 654.2 L738.2 656.6 L740.0 658.9 L741.9 661.2 L743.8 663.6 L745.7 665.9 L747.6 668.2 L749.5 670.5 L751.4 672.9 L753.3 675.2 L755.2 677.5 L757.1 679.8 L759.1 682.1 L761.0 684.4 L762.9 686.7 L764.9 689.0 L766.8 691.2 L768.8 693.5 L770.7 695.8 L772.7 698.0 L774.7 700.3 L776.6 702.5 L778.6 704.8 L780.6 707.0 L782.6 709.3 L784.6 711.5 L786.6 713.7 L788.6 715.9 L790.7 718.1 L792.7 720.3 L794.7 722.5 L796.8 724.7 L798.8 726.9 L800.9 729.1 L803.0 731.2 L805.0 733.4 L807.1 735.6 L809.2 737.7 L811.3 739.9 L813.4 742.0 L815.4 744.2 L817.5 746.4 L819.6 748.5 L821.7 750.7 L823.8 752.9 L825.8 755.0 L827.9 757.2 L830.0 759.4 L832.0 761.6 L834.1 763.7 L836.1 765.9 L838.2 768.1 L840.2 770.3 L842.3 772.5 L844.3 774.7 L846.4 776.9 L848.4 779.1 L850.4 781.3 L852.5 783.5 L854.5 785.7 L856.6 787.9 L858.6 790.1 L860.7 792.3 L862.7 794.5 L864.8 796.7 L866.8 798.9 L868.9 801.0 L871.0 803.2 L873.1 805.4 L875.2 807.5 L877.3 809.6 L879.4 811.8 L881.5 813.9 L883.6 816.0 L885.7 818.1 L887.9 820.2 L890.0 822.3 L892.2 824.3 L894.4 826.4 L896.6 828.4 L898.8 830.4 L901.0 832.4 L903.3 834.4 L905.5 836.4 L907.8 838.3 L910.1 840.2 L912.4 842.2 L914.7 844.1 L917.0 846.0 L919.3 847.8 L921.7 849.7 L924.0 851.5 L926.4 853.4 L928.8 855.2 L931.2 857.0 L933.6 858.8 L936.0 860.6 L938.4 862.4 L940.8 864.2 L943.2 865.9 L945.7 867.7 L948.1 869.4 L950.6 871.1 L953.1 872.9 L955.5 874.6 L958.0 876.3 L960.5 878.0 L963.0 879.7 L965.5 881.3 L968.0 883.0 L970.5 884.7 L973.0 886.4 L975.5 888.0 L978.0 889.7 L980.5 891.3 L983.0 893.0 L985.5 894.6 L988.0 896.3 L990.6 897.9 L993.1 899.5 L995.6 901.1 L998.2 902.8 L1000.7 904.4 L1003.2 906.0 L1005.8 907.6 L1008.3 909.1 L1010.9 910.7 L1013.4 912.3 L1016.0 913.8 L1018.5 915.4 L1021.1 916.9 L1023.7 918.5 L1026.3 920.0 L1028.8 921.5 L1031.4 923.0 L1034.0 924.5 L1036.6 926.0 L1039.2 927.4 L1041.8 928.9 L1044.5 930.3 L1047.1 931.8 L1049.7 933.2 L1052.3 934.6 L1055.0 936.0 L1057.6 937.4 L1060.3 938.8 L1063.0 940.1 L1065.6 941.4 L1068.3 942.8 L1071.0 944.1 L1073.7 945.4 L1076.4 946.7 L1079.1 947.9 L1081.8 949.2 L1084.5 950.4 L1087.3 951.6 L1090.0 952.8 L1092.7 954.0 L1095.5 955.1 L1098.3 956.3 L1101.0 957.4 L1103.8 958.6 L1106.6 959.7 L1109.4 960.8 L1112.2 961.8 L1115.0 962.9 L1117.8 963.9 L1120.6 965.0 L1123.4 966.0 L1126.2 967.0 L1129.1 968.0 L1131.9 969.0 L1134.8 969.9 L1137.6 970.9 L1140.5 971.8 L1143.3 972.8 L1146.2 973.7 L1149.0 974.6 L1151.9 975.5 L1154.8 976.3 L1157.7 977.2 L1160.6 978.1 L1163.4 978.9 L1166.3 979.7 L1169.2 980.6 L1172.1 981.4 L1175.0 982.2 L1177.9 983.0 L1180.8 983.7 L1183.7 984.5 L1186.7 985.3 L1189.6 986.0 L1192.5 986.8 L1195.4 987.5 L1198.3 988.2 L1201.3 988.9 L1204.2 989.6 L1207.1 990.3 L1210.0 991.0 L1213.0 991.7 L1215.9 992.3 L1218.8 993.0 L1221.8 993.6 L1224.7 994.3 L1227.6 994.9 L1230.6 995.5 L1233.5 996.2 L1236.4 996.8 L1239.4 997.4 L1242.3 998.0 L1245.2 998.6 L1248.2 999.1 L1251.1 999.7 L1254.0 1000.3 L1257.0 1000.9 L1259.9 1001.4 L1262.8 1002.0 L1265.7 1002.5 L1268.7 1003.1 L1271.6 1003.6 L1274.5 1004.1 L1277.4 1004.7 L1280.3 1005.2 L1283.2 1005.7 L1285.0 1006.0"/>
<path stroke="#0000ff" d="M426.6 134.8 L427.5 134.7 L428.3 134.7 L429.1 134.7 L429.9 134.7 L430.9 134.5 L431.9 134.2 L433.1 133.7 L434.5 132.9 L436.0 132.0 L437.4 131.2 L438.8 130.6 L440.0 130.2 L441.0 130.1 L441.8 130.3 L442.6 130.5 L443.3 131.0 L444.1 131.5 L445.0 132.2 L446.1 133.0 L447.2 134.1 L448.5 135.2 L449.7 136.5 L451.0 137.7 L452.2 138.8 L453.4 139.8 L454.6 140.7 L455.8 141.6 L457.0 142.5 L458.2 143.6 L459.4 144.8 L460.6 146.2 L461.8 147.8 L462.9 149.5 L464.1 151.3 L465.3 153.1 L466.5 155.1 L467.7 157.1 L468.9 159.1 L470.1 161.3 L471.3 163.5 L472.6 166.0 L473.9 168.6 L475.3 171.5 L476.8 174.7 L478.2 178.0 L479.8 181.4 L481.3 184.8 L482.8 188.1 L484.4 191.5 L486.0 195.1 L487.7 198.7 L489.3 202.1 L490.7 205.2 L491.8 207.6 L491.7 207.6 L493.0 210.4 L494.2 213.1 L495.5 215.8 L496.8 218.5 L498.0 221.3 L499.3 224.0 L500.6 226.7 L501.9 229.4 L503.2 232.1 L504.4 234.8 L505.7 237.5 L507.0 240.2 L508.3 243.0 L509.6 245.7 L510.9 248.4 L512.2 251.1 L513.5 253.8 L514.8 256.5 L516.2 259.2 L517.5 261.9 L518.8 264.6 L520.1 267.3 L521.5 270.0 L522.8 272.6 L524.1 275.3 L525.5 278.0 L526.8 280.7 L528.2 283.4 L529.5 286.1 L530.9 288.7 L532.2 291.4 L533.6 294.1 L534.9 296.8 L536.3 299.4 L537.7 302.1 L539.0 304.8 L540.4 307.4 L541.8 310.1 L543.2 312.8 L544.6 315.4 L546.0 318.1 L547.4 320.7 L548.8 323.4 L550.2 326.0 L551.6 328.7 L553.0 331.3 L554.4 334.0 L555.8 336.6 L557.3 339.3 L558.7 341.9 L560.1 344.5 L561.6 347.2 L563.0 349.8 L564.5 352.4 L565.9 355.1 L567.4 357.7 L568.8 360.3 L570.3 362.9 L571.7 365.5 L573.2 368.1 L574.7 370.8 L576.2 373.4 L577.7 376.0 L579.1 378.6 L580.6 381.2 L582.1 383.8 L583.6 386.4 L585.1 389.0 L586.6 391.5 L588.2 394.1 L589.7 396.7 L591.2 399.3 L592.7 401.9 L594.3 404.4 L595.8 407.0 L597.3 409.6 L598.9 412.2 L600.4 414.7 L602.0 417.3 L603.5 419.8 L605.1 422.4 L606.7 424.9 L608.3 427.5 L609.8 430.0 L611.4 432.6 L613.0 435.1 L614.6 437.7 L616.2 440.2 L617.8 442.7 L619.4 445.3 L621.0 447.8 L622.6 450.3 L624.2 452.8 L625.9 455.3 L627.5 457.9 L629.1 460.4 L630.7 462.9 L632.4 465.4 L634.0 467.9 L635.7 470.4 L637.3 472.9 L639.0 475.4 L640.7 477.9 L642.3 480.3 L644.0 482.8 L645.7 485.3 L647.3 487.8 L649.0 490.3 L650.7 492.7 L652.4 495.2 L654.1 497.7 L655.8 500.1 L657.5 502.6 L659.2 505.1 L660.9 507.5 L662.7 510.0 L664.4 512.4 L666.1 514.9 L667.8 517.3 L669.6 519.7 L671.3 522.2 L673.1 524.6 L674.8 527.1 L676.6 529.5 L678.3 531.9 L680.1 534.3 L681.8 536.7 L683.6 539.2 L685.4 541.6 L687.2 544.0 L689.0 546.4 L690.7 548.8 L692.5 551.2 L694.3 553.6 L696.1 556.0 L697.9 558.4 L699.7 560.8 L701.6 563.1 L703.4 565.5 L705.2 567.9 L707.0 570.3 L708.8 572.7 L710.7 575.0 L712.5 577.4 L714.4 579.8 L716.2 582.1 L718.1 584.5 L719.9 586.8 L721.8 589.2 L723.6 591.5 L725.5 593.9 L727.4 596.2 L729.3 598.5 L731.1 600.9 L733.0 603.2 L734.9 605.5 L736.8 607.9 L738.7 610.2 L740.6 612.5 L742.5 614.8 L744.4 617.1 L746.3 619.4 L748.2 621.8 L750.2 624.1 L752.1 626.4 L754.0 628.7 L755.9 630.9 L757.9 633.2 L759.8 635.5 L761.8 637.8 L763.7 640.1 L765.7 642.4 L767.6 644.6 L769.6 646.9 L771.6 649.2 L773.5 651.4 L775.5 653.7 L777.5 656.0 L779.5 658.2 L781.5 660.5 L783.4 662.7 L785.4 665.0 L787.4 667.2 L789.4 669.4 L791.4 671.7 L793.5 673.9 L795.5 676.1 L797.5 678.4 L799.5 680.6 L801.5 682.8 L803.6 685.0 L805.6 687.2 L807.6 689.4 L809.7 691.6 L811.7 693.9 L813.8 696.1 L815.8 698.2 L817.9 700.4 L820.0 702.6 L822.0 704.8 L824.1 707.0 L826.2 709.2 L828.2 711.4 L830.3 713.5 L832.4 715.7 L834.5 717.9 L836.6 720.0 L838.7 722.2 L840.8 724.3 L842.9 726.5 L845.0 728.6 L847.1 730.8 L849.2 732.9 L851.4 735.1 L853.5 737.2 L855.6 739.3 L857.8 741.4 L859.9 743.6 L862.0 745.7 L864.2 747.8 L866.3 749.9 L868.5 752.0 L870.6 754.1 L872.8 756.2 L875.0 758.3 L877.1 760.4 L879.3 762.5 L881.5 764.5 L883.7 766.6 L885.9 768.7 L888.0 770.7 L890.2 772.8 L892.4 774.9 L894.6 776.9 L896.9 779.0 L899.1 781.0 L901.3 783.0 L903.5 785.1 L905.7 787.1 L908.0 789.1 L910.2 791.1 L912.4 793.1 L914.7 795.1 L916.9 797.1 L919.2 799.1 L921.4 801.1 L923.7 803.1 L925.9 805.1 L928.2 807.0 L930.5 809.0 L932.8 811.0 L935.0 812.9 L937.3 814.9 L939.6 816.8 L941.9 818.8 L944.2 820.7 L946.5 822.6 L948.8 824.5 L951.1 826.5 L953.4 828.4 L955.8 830.3 L958.1 832.2 L960.4 834.1 L962.7 835.9 L965.1 837.8 L967.4 839.7 L969.8 841.5 L972.1 843.4 L974.5 845.3 L976.8 847.1 L979.2 848.9 L981.6 850.8 L983.9 852.6 L986.3 854.4 L988.7 856.2 L991.1 858.0 L993.5 859.8 L995.9 861.6 L998.3 863.4 L1000.7 865.2 L1003.1 866.9 L1005.5 868.7 L1007.9 870.5 L1010.4 872.2 L1012.8 873.9 L1015.2 875.7 L1017.7 877.4 L1020.1 879.1 L1022.5 880.8 L1025.0 882.5 L1027.5 884.2 L1029.9 885.9 L1032.4 887.6 L1034.9 889.3 L1037.3 890.9 L1039.8 892.6 L1042.3 894.2 L1044.8 895.9 L1047.3 897.5 L1049.8 899.1 L1052.3 900.8 L1054.8 902.4 L1057.3 904.0 L1059.8 905.6 L1062.4 907.1 L1064.9 908.7 L1067.4 910.3 L1070.0 911.8 L1072.5 913.4 L1075.0 914.9 L1077.6 916.5 L1080.2 918.0 L1082.7 919.5 L1085.3 921.0 L1087.9 922.5 L1090.4 924.0 L1093.0 925.5 L1095.6 927.0 L1098.2 928.4 L1100.8 929.9 L1103.4 931.3 L1106.0 932.7 L1108.6 934.2 L1111.2 935.6 L1113.9 937.0 L1116.5 938.4 L1119.1 939.8 L1121.8 941.2 L1124.4 942.5 L1127.1 943.9 L1129.7 945.2 L1132.4 946.6 L1135.0 947.9 L1137.7 949.2 L1140.4 950.6 L1143.1 951.9 L1145.7 953.1 L1148.4 954.4 L1151.1 955.7 L1153.8 957.0 L1156.5 958.2 L1159.2 959.5 L1161.9 960.7 L1164.7 961.9 L1167.4 963.1 L1170.1 964.3 L1172.9 965.5 L1175.6 966.7 L1178.3 967.9 L1181.1 969.0 L1183.9 970.2 L1186.6 971.3 L1189.4 972.4 L1192.2 973.6 L1194.9 974.7 L1197.7 975.8 L1200.5 976.8 L1203.3 977.9 L1206.1 979.0 L1208.9 980.0 L1211.7 981.1 L1214.5 982.1 L1217.4 983.1 L1220.2 984.1 L1223.0 985.1 L1225.8 986.1 L1228.7 987.1 L1231.5 988.0 L1234.4 989.0 L1237.2 989.9 L1240.1 990.9 L1243.0 991.8 L1245.9 992.7 L1248.7 993.6 L1251.6 994.4 L1254.5 995.3 L1257.4 996.2 L1260.3 997.0 L1263.2 997.9 L1266.1 998.7 L1269.1 999.5 L1272.0 1000.3 L1274.9 1001.1 L1277.8 1001.8 L1280.8 1002.6 L1283.7 1003.3 L1286.7 1004.1 L1289.6 1004.8 L1292.6 1005.5 L1295.6 1006.2 L1297.5 1006.7"/>
</g>
<g transform="translate(163.6 63.9) scale(1.005 1)"><text x="-60.94" font-size="54.8">50</text></g>
<g transform="translate(163.6 256.4) scale(1.005 1)"><text x="-60.94" font-size="54.8">40</text></g>
<g transform="translate(163.6 449.0) scale(1.005 1)"><text x="-60.94" font-size="54.8">30</text></g>
<g transform="translate(163.6 641.5) scale(1.005 1)"><text x="-60.94" font-size="54.8">20</text></g>
<g transform="translate(163.6 834.1) scale(1.005 1)"><text x="-60.94" font-size="54.8">10</text><path fill="#fefefe" d="M-58.47 0.66h11.21v-5.92h-11.21zM-42.33 0.66h10.96v-5.92h-10.96z"/></g>
<g transform="translate(163.6 1026.6) scale(1.005 1)"><text x="-30.47" font-size="54.8">0</text></g>
<g transform="translate(203.8 1098.0) scale(1.005 1)"><text x="-30.47" font-size="54.8">40</text></g>
<g transform="translate(394.4 1098.0) scale(1.005 1)"><text x="-30.47" font-size="54.8">60</text></g>
<g transform="translate(585.1 1098.0) scale(1.005 1)"><text x="-30.47" font-size="54.8">80</text></g>
<g transform="translate(775.7 1098.0) scale(1.005 1)"><text x="-45.70" font-size="54.8">100</text><path fill="#fefefe" d="M-43.24 0.66h11.21v-5.92h-11.21zM-27.10 0.66h10.96v-5.92h-10.96z"/></g>
<g transform="translate(966.4 1098.0) scale(1.005 1)"><text x="-45.70" font-size="54.8">120</text><path fill="#fefefe" d="M-43.24 0.66h11.21v-5.92h-11.21zM-27.10 0.66h10.96v-5.92h-10.96z"/></g>
<g transform="translate(1157.0 1098.0) scale(1.005 1)"><text x="-45.70" font-size="54.8">140</text><path fill="#fefefe" d="M-43.24 0.66h11.21v-5.92h-11.21zM-27.10 0.66h10.96v-5.92h-10.96z"/></g>
<g transform="translate(1347.7 1098.0) scale(1.005 1)"><text x="-45.70" font-size="54.8">160</text><path fill="#fefefe" d="M-43.24 0.66h11.21v-5.92h-11.21zM-27.10 0.66h10.96v-5.92h-10.96z"/></g>
<g transform="translate(1538.3 1098.0) scale(1.005 1)"><text x="-45.70" font-size="54.8">180</text><path fill="#fefefe" d="M-43.24 0.66h11.21v-5.92h-11.21zM-27.10 0.66h10.96v-5.92h-10.96z"/></g>
<text class="b" font-size="50.3" x="693.6" y="1180">A/molecule<tspan dx="1.4"> [Å</tspan><tspan font-size="30.5" dy="-25.8" dx="0.3">2</tspan><tspan dy="25.8" dx="0.3">]</tspan></text>
<g transform="translate(60 632) rotate(-90)"><text class="sym" font-size="62" x="0" y="0" transform="translate(-1.2 0.8) scale(1.08 1.03)" stroke="#000" stroke-width="0.6" stroke-linejoin="round">π</text><text class="b" font-size="49.5" x="53" y="0">[mN/m]</text></g>
<g stroke-width="6.9" fill="none">
<path stroke="#000000" d="M236 765.7 H320"/>
<path stroke="#ff0000" d="M236 816.5 H320"/>
<path stroke="#00ff00" d="M236 867.3 H320"/>
<path stroke="#ffff00" d="M236 918.1 H320"/>
<path stroke="#0000ff" d="M236 968.9 H320"/>
</g>
<g font-size="38.9">
<text transform="translate(341.8 780.0) scale(0.935 1)">0</text>
<g transform="translate(341.8 830.8) scale(0.935 1)"><text>6.25<tspan class="sym" x="78.9" dy="1.3" font-size="53" stroke="#fefefe" stroke-width="0.7">μ</tspan><tspan x="108.9" dy="-1.3">M</tspan></text></g>
<g transform="translate(341.8 881.6) scale(0.935 1)"><text>12.5<tspan class="sym" x="78.9" dy="1.3" font-size="53" stroke="#fefefe" stroke-width="0.7">μ</tspan><tspan x="108.9" dy="-1.3">M</tspan></text><path fill="#fefefe" d="M1.75 0.47h7.96v-4.20h-7.96zM13.21 0.47h7.78v-4.20h-7.78z"/></g>
<g transform="translate(341.8 932.4) scale(0.935 1)"><text>25<tspan class="sym" x="47.4" dy="1.3" font-size="53" stroke="#fefefe" stroke-width="0.7">μ</tspan><tspan x="77.3" dy="-1.3">M</tspan></text></g>
<g transform="translate(341.8 983.2) scale(0.935 1)"><text>50<tspan class="sym" x="47.4" dy="1.3" font-size="53" stroke="#fefefe" stroke-width="0.7">μ</tspan><tspan x="77.3" dy="-1.3">M</tspan></text></g>
</g>
<g stroke="#4c4c4c" stroke-width="2.0" fill="none">
<path d="M805.0 61.4 H812.5 V608.6" stroke-linejoin="round"/>
<path d="M805.0 601.6 H1520.5 V608.6" stroke-linejoin="round"/>
<path d="M805.0 169.4 H812.5"/>
<path d="M805.0 277.5 H812.5"/>
<path d="M805.0 385.5 H812.5"/>
<path d="M805.0 493.6 H812.5"/>
<path d="M954.1 601.6 V608.6"/>
<path d="M1095.7 601.6 V608.6"/>
<path d="M1237.3 601.6 V608.6"/>
<path d="M1378.9 601.6 V608.6"/>
</g>
<g fill="none" stroke-width="3.5" stroke-linejoin="round" stroke-linecap="butt">
<path stroke="#000000" d="M812.5 548.6 L813.7 547.9 L814.9 545.7 L816.1 545.9 L817.3 544.2 L818.4 543.4 L819.4 540.6 L820.2 539.9 L821.0 537.7 L821.8 536.4 L822.4 535.1 L823.1 533.1 L823.7 530.3 L824.4 531.2 L825.0 528.9 L825.7 527.4 L826.4 524.7 L827.1 524.9 L827.8 522.5 L828.6 520.5 L829.3 520.5 L830.1 517.9 L831.0 515.5 L831.8 515.3 L832.6 515.1 L833.4 513.1 L834.3 509.8 L835.1 509.2 L836.0 508.3 L836.8 505.9 L837.6 504.4 L838.4 503.9 L839.3 501.6 L840.1 500.9 L840.8 498.6 L841.6 496.2 L842.4 497.3 L843.1 494.3 L843.9 492.2 L844.6 492.4 L845.4 489.2 L846.1 488.4 L846.9 486.6 L847.6 485.4 L848.4 484.2 L849.1 482.4 L849.9 480.7 L850.7 477.9 L851.4 478.0 L852.1 476.8 L852.9 474.3 L853.6 471.5 L854.4 470.7 L855.1 469.8 L855.8 468.6 L856.6 467.2 L857.3 464.5 L858.1 463.5 L858.9 461.9 L859.7 461.3 L860.5 459.4 L861.3 457.5 L862.2 456.3 L863.1 455.2 L864.0 452.5 L864.9 451.7 L865.9 450.4 L866.8 449.1 L867.8 447.9 L868.8 447.0 L869.8 445.2 L870.8 443.9 L871.8 442.4 L872.9 440.5 L873.9 439.6 L875.0 438.5 L876.0 436.0 L877.1 436.1 L878.2 434.1 L879.3 432.3 L880.4 431.7 L881.5 429.5 L882.6 430.1 L883.7 427.9 L884.9 426.3 L886.1 424.9 L887.2 424.1 L888.4 422.0 L889.6 422.3 L890.8 420.5 L892.1 419.8 L893.3 416.3 L894.5 417.8 L895.7 416.3 L897.0 414.8 L898.2 413.2 L899.4 413.3 L900.6 411.2 L901.9 409.1 L903.1 408.0 L904.3 408.0 L905.6 406.4 L906.8 406.9 L908.1 404.1 L909.3 402.8 L910.5 401.5 L911.8 400.6 L913.1 398.8 L914.3 399.2 L915.6 397.5 L916.8 396.3 L918.1 395.1 L919.3 393.1 L920.6 392.4 L921.8 391.4 L923.1 390.5 L924.3 388.1 L925.6 387.0 L926.8 387.4 L928.0 384.6 L929.3 383.3 L930.5 382.6 L931.7 382.1 L933.0 380.7 L934.2 380.1 L935.4 379.1 L936.7 378.3 L937.9 376.5 L939.2 374.5 L940.4 374.0 L941.7 372.8 L943.0 371.4 L944.3 370.6 L945.6 369.3 L946.9 368.4 L948.2 367.2 L949.5 365.9 L950.8 365.0 L952.1 364.8 L953.5 362.0 L954.8 362.3 L956.1 360.8 L957.5 361.4 L958.8 358.1 L960.2 357.9 L961.6 356.8 L962.9 355.0 L964.3 354.5 L965.7 353.2 L967.1 352.7 L968.4 351.7 L969.8 350.4 L971.2 350.4 L972.6 348.6 L974.0 346.5 L975.4 347.3 L976.8 346.2 L978.3 345.3 L979.7 343.6 L981.1 343.1 L982.5 341.9 L984.0 340.6 L985.4 340.5 L986.9 340.0 L988.3 338.9 L989.8 337.6 L991.3 336.6 L992.9 337.7 L994.5 336.4 L996.1 336.0 L997.7 334.8 L999.3 334.6 L1000.9 334.1 L1002.4 332.6 L1004.0 332.7 L1005.6 331.9 L1007.2 330.7 L1008.7 330.1 L1010.3 330.2 L1011.9 329.6 L1013.5 329.0 L1015.1 328.3 L1016.7 327.3 L1018.3 327.0 L1019.9 325.3 L1021.5 325.1 L1023.1 325.0 L1024.7 324.6 L1026.3 323.4 L1027.9 323.9 L1029.5 322.7 L1031.1 322.3 L1032.7 322.3 L1034.3 321.4 L1035.9 320.9 L1037.5 319.0 L1039.2 318.9 L1040.8 318.5 L1042.4 319.1 L1044.0 318.7 L1045.6 316.8 L1047.2 316.6 L1048.7 316.5 L1050.3 315.8 L1051.9 315.6 L1053.5 313.8 L1055.1 313.7 L1056.7 314.4 L1058.4 312.8 L1060.0 312.4 L1061.7 312.7 L1063.4 311.8 L1065.1 312.7 L1066.8 311.9 L1068.5 311.8 L1070.2 311.3 L1071.9 311.3 L1073.5 311.6 L1075.2 311.2 L1076.8 309.5 L1078.5 310.4 L1080.2 308.3 L1081.9 310.0 L1083.6 308.8 L1085.2 309.1 L1086.9 309.5 L1088.5 309.4 L1090.2 310.4 L1091.9 310.0 L1093.6 310.7 L1095.3 311.5 L1096.9 311.1 L1098.6 310.0 L1100.2 309.5 L1101.8 309.6 L1103.4 308.3 L1105.0 307.0 L1106.5 306.6 L1108.0 306.2 L1109.4 304.5 L1110.8 304.8 L1112.1 303.9 L1113.3 302.2 L1114.6 301.0 L1115.9 299.7 L1117.2 299.7 L1118.5 296.2 L1119.9 297.5 L1121.3 294.5 L1122.7 294.7 L1124.1 293.3 L1125.5 292.7 L1126.9 291.6 L1128.2 290.2 L1129.5 289.6 L1130.8 287.7 L1132.1 287.3 L1133.4 286.8 L1134.6 285.8 L1135.9 284.7 L1137.2 283.4 L1138.5 281.9 L1139.9 281.8 L1141.2 280.0 L1142.6 278.6 L1143.9 277.2 L1145.3 276.7 L1146.7 275.8 L1148.0 274.7 L1149.4 274.0 L1150.8 272.9 L1152.2 272.1 L1153.6 269.8 L1155.0 270.4 L1156.4 269.0 L1157.7 268.1 L1159.1 266.2 L1160.5 266.7 L1161.9 264.0 L1163.3 263.3 L1164.7 263.5 L1166.1 261.9 L1167.5 259.8 L1168.9 259.9 L1170.3 259.7 L1171.7 259.0 L1173.1 257.0 L1174.5 256.5 L1175.9 255.1 L1177.3 254.8 L1178.7 252.2 L1180.0 251.9 L1181.4 251.4 L1182.7 250.3 L1183.9 249.1 L1185.2 248.8 L1186.4 246.2 L1187.7 245.6 L1188.9 243.7 L1190.2 243.6 L1191.5 241.9 L1192.8 241.6 L1194.2 239.8 L1195.6 240.4 L1197.1 239.2 L1198.5 237.5 L1200.0 236.0 L1201.5 235.9 L1202.9 233.8 L1204.4 234.8 L1205.9 232.8 L1207.4 232.2 L1208.8 231.8 L1210.3 231.5 L1211.8 230.4 L1213.3 228.2 L1214.8 227.6 L1216.3 226.3 L1217.8 226.7 L1219.3 225.8 L1220.8 224.2 L1222.3 223.8 L1223.7 223.0 L1225.2 222.3 L1226.7 222.8 L1228.2 221.3 L1229.7 220.1 L1231.2 218.7 L1232.7 219.2 L1234.2 217.9 L1235.7 216.9 L1237.2 215.7 L1238.7 215.6 L1240.2 215.5 L1241.7 213.3 L1243.2 213.1 L1244.7 211.7 L1246.3 212.0 L1247.8 211.1 L1249.4 208.2 L1251.0 208.4 L1252.6 209.1 L1254.2 207.7 L1255.8 207.9 L1257.4 207.0 L1259.1 207.6 L1260.7 207.2 L1262.4 205.6 L1264.0 205.0 L1265.6 205.3 L1267.3 203.8 L1268.9 203.6 L1270.5 204.1 L1272.1 202.8 L1273.8 201.6 L1275.4 202.0 L1277.0 201.2 L1278.7 201.1 L1280.3 201.2 L1281.9 201.2 L1283.5 199.3 L1285.2 199.2 L1286.8 198.5 L1288.4 197.3 L1290.1 198.1 L1291.7 196.7 L1293.3 196.1 L1294.9 196.7 L1296.5 196.6 L1298.2 195.2 L1299.8 194.3 L1301.4 193.6 L1303.0 193.7 L1304.5 192.2 L1306.1 191.0 L1307.8 191.5 L1309.4 190.9 L1311.0 190.1 L1312.6 189.9 L1314.2 188.1 L1315.8 189.4 L1317.4 188.9 L1319.0 187.6 L1320.6 187.9 L1322.3 186.8 L1323.9 186.4 L1325.6 187.0 L1327.3 186.0 L1329.0 185.8 L1330.7 186.2 L1332.4 187.3 L1334.1 187.8 L1335.7 187.6 L1337.4 187.2 L1339.1 186.7 L1340.8 187.6 L1342.5 188.3 L1344.2 188.2 L1345.9 187.0 L1347.5 186.7 L1349.2 187.0 L1350.9 185.3 L1352.6 185.9 L1354.3 186.2 L1356.0 187.0 L1357.6 187.5 L1359.3 187.0 L1360.9 188.6 L1362.5 189.3 L1364.0 187.2 L1365.5 190.0 L1366.7 191.0 L1367.9 192.4 L1368.9 193.9 L1369.9 194.1 L1370.9 197.2 L1372.0 197.2 L1373.0 199.0 L1374.1 199.7 L1375.1 202.1 L1376.1 203.6 L1377.1 205.6 L1378.0 206.7 L1378.9 207.7 L1379.8 210.0 L1380.6 210.4 L1381.4 212.5 L1382.2 213.4 L1382.9 214.9 L1383.6 216.7 L1384.3 218.3 L1385.0 219.2 L1385.7 220.9 L1386.4 222.1 L1387.1 224.6 L1387.8 227.4 L1388.4 227.1 L1389.1 228.9 L1389.7 231.4 L1390.3 232.9 L1390.8 234.0 L1391.3 234.9 L1391.8 236.0 L1392.3 237.8 L1392.7 240.2 L1393.1 242.0 L1393.5 243.1 L1393.9 245.6 L1394.3 245.9 L1394.7 247.9 L1395.0 249.5 L1395.4 251.3 L1395.8 254.0 L1396.2 256.3 L1396.6 257.1 L1397.0 259.5 L1397.4 260.9 L1397.8 262.3 L1398.2 263.0 L1398.5 264.7 L1398.9 266.4 L1399.3 268.1 L1399.7 269.2 L1400.0 272.2 L1400.4 273.1 L1400.7 274.0 L1401.1 276.5 L1401.4 278.8 L1401.7 280.0 L1402.0 282.3 L1402.3 282.5 L1402.7 285.0 L1403.0 286.7 L1403.3 288.6 L1403.6 289.6 L1403.9 292.8 L1404.3 293.2 L1404.6 295.5 L1404.9 295.6 L1405.2 298.2 L1405.6 301.3 L1405.9 301.6 L1406.2 304.7 L1406.6 304.6 L1406.9 307.3 L1407.3 308.7 L1407.8 309.4 L1408.6 311.7 L1410.0 312.8 L1410.8 314.1 L1411.3 316.5 L1411.6 317.2 L1412.0 318.6 L1412.3 320.4 L1412.6 323.8 L1412.8 324.7 L1413.1 326.3 L1413.4 326.9 L1413.6 329.5 L1413.9 330.7 L1414.1 332.8 L1414.4 334.0 L1414.7 335.5 L1414.9 336.7 L1415.2 338.7 L1415.4 340.9 L1415.6 342.8 L1415.9 343.6 L1416.1 345.9 L1416.4 347.0 L1416.6 349.5 L1416.8 350.1 L1417.0 352.7 L1417.2 355.3 L1417.4 356.7 L1417.6 357.9 L1417.8 359.6 L1418.0 361.0 L1418.2 362.2 L1418.4 364.4 L1418.6 367.5 L1418.7 367.4 L1418.9 369.3 L1419.1 370.1 L1419.2 372.7 L1419.4 374.4 L1419.6 377.5 L1419.7 378.2 L1419.9 380.7 L1420.1 381.4 L1420.2 383.2 L1420.4 385.8 L1420.5 386.2 L1420.7 389.3 L1420.9 390.0 L1421.0 391.2 L1421.2 393.4 L1421.4 394.8 L1421.6 395.8 L1421.8 398.6 L1421.9 399.2 L1422.1 401.4 L1422.3 403.4 L1422.5 405.5 L1422.7 406.2 L1422.8 408.5 L1423.0 409.2 L1423.2 411.6 L1423.3 413.8 L1423.5 414.0 L1423.6 416.5 L1423.8 418.6 L1423.9 420.0 L1424.0 421.1 L1424.1 422.9 L1424.2 425.8 L1424.3 427.3 L1424.4 429.3 L1424.5 430.3 L1424.6 432.4 L1424.7 434.6 L1424.8 435.5 L1424.8 436.3 L1424.9 438.9 L1425.0 440.5 L1425.0 442.0 L1425.1 444.7 L1425.2 446.4 L1425.3 446.9 L1425.4 450.1 L1425.4 450.9 L1425.5 452.5 L1425.6 454.3 L1425.7 456.0 L1425.8 458.0 L1425.9 459.1 L1425.9 460.1 L1426.0 463.4 L1426.1 464.3 L1426.2 467.0 L1426.3 467.4 L1426.4 469.5 L1426.5 471.2 L1426.6 471.7 L1426.6 473.7 L1426.7 475.6 L1426.8 478.3 L1426.9 480.3 L1427.0 481.1 L1427.0 484.8 L1427.1 484.5 L1427.2 486.3 L1427.2 487.8 L1427.3 489.9 L1427.4 491.8 L1427.5 492.7 L1427.6 495.1 L1427.7 495.4 L1427.9 498.5 L1428.0 500.7 L1428.1 501.5 L1428.3 503.6 L1428.4 505.9 L1428.6 506.8 L1428.7 507.2 L1428.9 510.5 L1429.0 511.5 L1429.1 513.9 L1429.3 515.5 L1429.4 517.5 L1429.5 518.7 L1429.7 520.5 L1429.8 522.2 L1429.9 523.5 L1430.0 526.0 L1430.0 527.4 L1430.1 528.6 L1430.2 530.9 L1430.3 532.5 L1430.3 533.6 L1430.4 535.0 L1430.4 537.6 L1430.4 538.8 L1430.5 540.5 L1430.5 543.1 L1430.5 544.0 L1430.5 545.4 L1430.5 547.1 L1430.5 550.6 L1430.5 550.8 L1430.4 552.6 L1430.4 554.5 L1430.4 556.4 L1430.3 558.3 L1430.3 560.4 L1430.3 561.0 L1430.2 563.1 L1430.2 564.7 L1430.1 565.5 L1430.1 567.7 L1430.1 570.6 L1430.1 570.6 L1430.1 573.3 L1430.1 574.7 L1430.1 577.1 L1430.1 578.9 L1430.1 579.5 L1430.1 582.7 L1430.1 582.8 L1430.1 584.3 L1430.1 586.7 L1430.1 589.1 L1430.1 589.7 L1430.1 591.6 L1430.1 593.1 L1430.1 595.7 L1430.1 596.9 L1430.1 598.3"/>
<path stroke="#ff0000" d="M812.0 543.1 L813.0 542.2 L813.9 540.1 L814.9 538.5 L815.9 538.6 L816.9 535.2 L817.9 534.9 L818.9 533.0 L819.8 532.1 L820.7 530.4 L821.5 528.9 L822.3 528.0 L823.0 527.0 L823.6 523.6 L824.2 522.5 L824.8 521.6 L825.4 520.0 L825.9 518.0 L826.5 515.5 L827.1 514.2 L827.7 513.5 L828.4 511.8 L829.1 510.4 L829.8 509.5 L830.6 507.5 L831.4 504.7 L832.2 504.6 L833.0 502.3 L833.8 501.6 L834.7 499.4 L835.5 497.7 L836.4 496.8 L837.3 494.3 L838.1 492.5 L839.0 492.2 L839.9 491.2 L840.8 490.7 L841.6 488.1 L842.5 485.4 L843.4 485.8 L844.2 483.9 L845.1 482.2 L846.0 480.8 L846.8 479.4 L847.6 477.3 L848.5 476.8 L849.3 474.8 L850.0 473.1 L850.8 471.0 L851.5 470.3 L852.2 468.3 L852.8 466.2 L853.4 465.2 L854.1 464.1 L854.7 461.7 L855.3 460.5 L855.9 457.7 L856.6 458.1 L857.3 456.1 L858.0 454.1 L858.7 451.8 L859.5 451.3 L860.3 450.1 L861.2 447.5 L862.0 446.7 L862.9 445.9 L863.8 444.6 L864.8 442.5 L865.7 440.8 L866.6 440.4 L867.6 438.6 L868.6 436.8 L869.5 435.5 L870.5 434.4 L871.5 432.5 L872.5 431.1 L873.5 430.1 L874.4 429.3 L875.4 427.1 L876.4 424.3 L877.4 425.1 L878.4 423.3 L879.4 421.5 L880.3 421.1 L881.3 418.3 L882.3 417.5 L883.3 415.4 L884.3 415.4 L885.3 413.2 L886.4 412.6 L887.4 410.2 L888.4 409.6 L889.5 409.1 L890.5 405.8 L891.6 405.7 L892.7 404.0 L893.8 403.0 L894.9 402.3 L896.1 399.7 L897.2 398.6 L898.4 397.4 L899.6 396.9 L900.7 395.0 L901.9 394.3 L903.1 392.4 L904.4 391.7 L905.6 390.1 L906.8 387.9 L908.1 388.4 L909.3 387.2 L910.6 385.6 L911.8 385.4 L913.1 385.3 L914.4 381.7 L915.7 381.8 L917.0 381.4 L918.4 379.7 L919.7 379.6 L921.0 376.7 L922.4 375.0 L923.8 374.9 L925.1 374.5 L926.5 373.2 L927.8 372.0 L929.2 369.8 L930.5 371.0 L931.8 369.9 L933.1 368.0 L934.4 366.4 L935.7 365.6 L936.9 364.4 L938.2 363.9 L939.4 361.9 L940.5 361.0 L941.7 359.5 L942.9 358.2 L944.0 356.6 L945.2 356.4 L946.3 353.6 L947.5 353.2 L948.7 353.3 L949.9 351.4 L951.2 349.3 L952.4 347.8 L953.8 346.7 L955.1 347.7 L956.5 344.8 L957.9 344.4 L959.3 344.6 L960.8 342.9 L962.2 341.9 L963.7 341.2 L965.2 341.4 L966.7 338.9 L968.2 339.7 L969.6 338.4 L971.1 335.9 L972.6 336.4 L974.0 334.7 L975.5 334.5 L976.9 333.6 L978.4 332.9 L979.8 332.2 L981.3 330.5 L982.7 330.6 L984.2 330.1 L985.6 327.5 L987.1 327.9 L988.6 326.1 L990.0 325.2 L991.5 324.8 L993.0 323.6 L994.4 323.4 L995.9 321.8 L997.4 321.7 L998.9 320.3 L1000.4 319.8 L1001.9 318.8 L1003.4 317.6 L1004.9 317.3 L1006.4 315.9 L1008.0 315.4 L1009.5 315.6 L1011.1 314.0 L1012.5 314.1 L1013.0 315.7 L1013.2 317.3 L1013.3 319.5 L1013.5 321.2 L1014.0 323.0 L1015.3 323.5 L1017.0 323.4 L1018.6 322.7 L1020.1 321.3 L1021.6 320.2 L1023.1 319.5 L1024.5 318.9 L1025.9 318.5 L1027.2 317.6 L1028.5 317.0 L1029.7 314.7 L1030.9 312.7 L1032.0 312.2 L1033.1 310.5 L1034.2 309.9 L1035.3 308.5 L1036.5 307.2 L1037.6 306.1 L1038.8 303.4 L1040.1 304.6 L1041.4 302.7 L1042.6 301.0 L1043.9 300.6 L1045.1 298.6 L1046.3 296.3 L1047.4 295.9 L1048.3 294.3 L1049.0 292.9 L1049.5 291.8 L1049.9 290.8 L1050.2 288.6 L1050.5 286.1 L1051.0 284.8 L1051.7 284.1 L1052.7 282.0 L1053.9 282.1 L1055.2 280.8 L1056.7 279.7 L1058.2 279.0 L1059.7 278.1 L1061.3 277.8 L1062.8 276.5 L1064.4 275.5 L1066.0 274.9 L1067.5 273.2 L1069.1 273.2 L1070.7 272.7 L1072.3 271.7 L1073.9 272.3 L1075.5 271.5 L1077.1 270.5 L1078.7 270.0 L1080.2 269.2 L1081.8 269.3 L1083.4 268.1 L1085.0 267.0 L1086.6 266.5 L1088.1 266.0 L1089.7 265.2 L1091.3 264.7 L1092.8 264.4 L1094.4 262.7 L1096.0 263.5 L1097.5 262.3 L1099.1 262.1 L1100.7 262.0 L1102.2 260.4 L1103.7 260.4 L1105.2 259.2 L1106.5 257.8 L1107.8 256.6 L1109.0 255.3 L1110.1 253.0 L1111.2 251.9 L1112.5 251.0 L1113.9 250.8 L1115.4 249.8 L1117.0 249.2 L1118.6 248.7 L1120.2 247.2 L1121.8 246.3 L1123.5 246.6 L1125.1 247.9 L1126.7 246.6 L1128.3 246.1 L1129.9 244.4 L1131.4 243.4 L1133.0 244.1 L1134.5 242.2 L1136.1 242.9 L1137.6 241.5 L1139.2 241.5 L1140.7 239.9 L1142.3 238.7 L1143.8 238.9 L1145.4 239.1 L1147.0 237.6 L1148.6 236.4 L1150.1 237.1 L1151.7 235.8 L1153.3 234.5 L1154.9 234.4 L1156.5 234.6 L1158.1 233.6 L1159.7 232.3 L1161.4 232.5 L1163.0 232.5 L1164.6 231.7 L1166.1 230.5 L1167.5 229.9 L1168.9 228.0 L1170.4 228.6 L1171.8 226.6 L1173.2 227.0 L1174.6 224.0 L1176.0 223.7 L1177.4 223.0 L1178.9 222.4 L1180.3 220.8 L1181.8 219.2 L1183.3 218.5 L1184.8 219.1 L1186.4 217.7 L1187.9 217.9 L1189.4 216.8 L1191.0 216.3 L1192.5 214.9 L1193.9 214.1 L1195.4 215.0 L1196.8 212.3 L1198.3 212.0 L1199.8 210.2 L1201.3 209.8 L1202.8 208.9 L1204.3 208.0 L1205.8 207.3 L1207.3 207.1 L1208.8 205.8 L1210.3 205.9 L1211.8 204.7 L1213.3 203.6 L1214.9 203.2 L1216.4 202.1 L1217.9 202.0 L1219.5 200.8 L1221.0 200.5 L1222.6 199.6 L1224.2 198.2 L1225.8 198.1 L1227.4 198.7 L1229.0 198.2 L1230.7 195.7 L1232.3 196.1 L1233.9 195.3 L1235.5 196.4 L1237.1 194.9 L1238.7 193.7 L1240.3 192.7 L1241.9 192.8 L1243.5 192.1 L1245.2 191.3 L1246.8 189.9 L1248.4 190.4 L1249.9 189.4 L1251.5 189.3 L1253.1 189.0 L1254.6 187.8 L1256.1 187.5 L1257.6 187.1 L1259.1 185.4 L1260.6 184.0 L1262.1 184.9 L1263.6 182.1 L1265.1 181.9 L1266.6 181.7 L1268.2 181.0 L1269.7 180.2 L1271.2 180.0 L1272.7 178.4 L1274.2 178.3 L1275.7 177.8 L1277.2 177.3 L1278.7 175.5 L1280.3 175.1 L1281.9 175.1 L1283.5 174.0 L1285.2 173.6 L1286.9 172.3 L1288.6 174.0 L1290.3 174.2 L1292.0 173.4 L1293.7 173.6 L1295.4 174.2 L1297.1 174.1 L1298.8 173.5 L1300.5 174.7 L1302.2 174.5 L1303.9 175.6 L1305.6 176.1 L1307.3 175.9 L1308.9 175.2 L1310.6 176.1 L1312.2 176.0 L1313.8 176.3 L1315.4 177.0 L1316.9 178.3 L1318.4 178.0 L1319.8 179.6 L1321.2 181.1 L1322.5 182.0 L1323.9 183.4 L1325.1 184.3 L1326.4 185.8 L1327.6 187.8 L1328.8 187.5 L1330.0 189.3 L1331.2 190.0 L1332.4 192.5 L1333.6 192.8 L1334.7 194.5 L1335.9 195.8 L1337.0 196.4 L1338.1 198.2 L1339.1 199.4 L1340.1 199.9 L1341.1 201.7 L1342.0 204.1 L1342.8 204.4 L1343.6 206.0 L1344.4 207.5 L1345.2 208.8 L1346.0 209.9 L1346.8 211.8 L1347.6 214.4 L1348.4 215.6 L1349.1 216.9 L1349.9 219.3 L1350.7 220.1 L1351.5 220.5 L1352.2 223.7 L1353.0 224.2 L1353.7 226.3 L1354.4 228.0 L1355.2 228.7 L1355.9 229.5 L1356.6 232.2 L1357.4 233.0 L1358.1 234.8 L1358.8 236.9 L1359.5 238.5 L1360.2 239.1 L1360.9 242.4 L1361.5 242.9 L1362.2 244.6 L1362.9 246.3 L1363.5 247.1 L1364.2 249.2 L1364.8 250.2 L1365.4 252.1 L1366.1 254.7 L1366.7 255.7 L1367.3 257.4 L1367.9 258.1 L1368.5 260.6 L1369.1 262.4 L1369.6 264.7 L1370.2 265.1 L1370.7 266.4 L1371.1 269.2 L1371.6 270.5 L1372.0 272.6 L1372.4 273.2 L1372.8 275.2 L1373.2 276.3 L1373.6 278.1 L1373.9 280.6 L1374.3 281.4 L1374.7 283.5 L1375.1 285.4 L1375.6 287.1 L1376.0 288.2 L1376.5 290.6 L1376.9 292.7 L1377.3 292.8 L1377.6 294.6 L1377.9 296.9 L1378.2 298.3 L1378.5 299.6 L1378.7 301.2 L1379.0 302.7 L1379.2 305.0 L1379.5 306.2 L1379.7 308.2 L1380.0 310.6 L1380.3 311.6 L1380.6 313.1 L1380.9 314.3 L1381.1 317.2 L1381.4 318.7 L1381.7 319.1 L1382.0 321.8 L1382.3 322.6 L1382.6 324.8 L1382.9 327.9 L1383.1 328.5 L1383.4 330.0 L1383.7 331.9 L1383.9 333.4 L1384.2 335.1 L1384.5 336.9 L1384.7 338.2 L1385.0 340.6 L1385.2 340.7 L1385.5 343.5 L1385.7 345.2 L1386.0 346.9 L1386.2 347.3 L1386.5 350.8 L1386.7 352.9 L1387.0 355.0 L1387.2 355.0 L1387.5 357.2 L1387.7 358.7 L1387.9 360.7 L1388.2 362.0 L1388.4 364.5 L1388.6 366.0 L1388.8 366.1 L1389.0 369.0 L1389.2 371.3 L1389.4 371.1 L1389.6 372.3 L1389.8 375.3 L1390.0 376.6 L1390.2 378.0 L1390.4 380.6 L1390.6 383.5 L1390.8 383.9 L1391.0 386.6 L1391.3 387.7 L1391.5 389.0 L1391.7 390.7 L1391.9 393.0 L1392.1 394.3 L1392.3 395.6 L1392.5 397.4 L1392.8 399.1 L1393.0 400.7 L1393.2 403.6 L1393.4 404.9 L1393.6 406.1 L1393.8 407.4 L1394.1 409.7 L1394.3 410.2 L1394.5 413.0 L1394.7 414.3 L1394.9 416.2 L1395.1 416.9 L1395.3 419.7 L1395.5 421.4 L1395.7 421.3 L1395.9 424.4 L1396.1 424.9 L1396.2 428.0 L1396.4 429.9 L1396.6 431.2 L1396.8 431.1 L1396.9 434.8 L1397.1 435.6 L1397.3 437.5 L1397.5 440.6 L1397.6 441.0 L1397.8 442.5 L1397.9 444.2 L1398.1 446.7 L1398.2 447.7 L1398.4 449.5 L1398.5 450.6 L1398.6 454.8 L1398.8 454.8 L1398.9 455.6 L1399.0 458.5 L1399.1 460.9 L1399.2 462.2 L1399.3 463.5 L1399.5 464.6 L1399.6 466.7 L1399.7 469.4 L1399.8 471.4 L1399.9 471.2 L1400.0 473.9 L1400.1 475.7 L1400.1 476.9 L1400.2 478.7 L1400.3 480.0 L1400.4 482.1 L1400.5 483.9 L1400.5 484.8 L1400.5 485.6 L1400.6 489.2 L1400.6 490.5 L1400.6 493.3 L1400.7 493.5 L1400.7 495.8 L1400.8 497.3 L1400.9 498.8 L1400.9 501.6 L1401.0 502.9 L1401.1 504.8 L1401.2 505.0 L1401.3 507.6 L1401.4 509.1 L1401.4 511.3 L1401.5 512.4 L1401.6 514.1 L1401.7 515.0 L1401.7 515.6 L1401.8 519.0 L1401.9 519.6 L1401.9 522.8 L1401.9 524.7 L1401.7 527.2 L1401.3 527.1 L1401.3 529.8 L1401.3 530.6 L1401.4 531.8 L1401.5 533.8 L1401.6 536.1 L1401.7 537.6 L1401.8 539.5 L1401.9 541.5 L1402.0 542.5 L1402.1 543.8 L1402.2 545.7 L1402.3 547.9 L1402.3 549.0 L1402.4 551.6 L1402.5 552.7 L1402.5 556.4 L1402.6 556.4 L1402.6 558.4 L1402.6 560.6 L1402.7 562.1 L1402.7 563.8 L1402.7 565.2 L1402.7 567.3 L1402.7 569.1 L1402.7 571.1 L1402.8 573.6 L1402.8 574.0 L1402.8 575.8 L1402.8 577.6 L1402.8 578.3 L1402.8 580.8 L1402.8 582.8 L1402.8 582.9 L1402.8 585.4 L1402.8 587.0 L1402.8 588.8 L1402.8 590.9 L1402.8 592.7 L1402.8 594.0 L1402.8 595.9 L1402.8 597.6 L1402.8 599.2 L1402.8 600.2"/>
<path stroke="#00ff00" d="M814.0 563.1 L814.1 561.1 L814.2 559.8 L814.3 558.3 L814.4 555.8 L814.8 554.5 L815.6 552.6 L816.9 552.0 L818.3 552.1 L819.4 549.5 L820.4 548.3 L821.2 546.6 L822.0 545.0 L822.7 544.0 L823.4 542.5 L824.1 541.0 L824.7 538.8 L825.4 538.0 L826.0 535.0 L826.6 535.0 L827.1 532.6 L827.6 530.9 L828.1 529.2 L828.6 527.4 L829.1 526.2 L829.6 524.8 L830.1 522.5 L830.6 522.2 L831.1 519.2 L831.6 517.3 L832.1 517.5 L832.6 515.5 L833.2 513.5 L833.7 511.0 L834.2 510.3 L834.8 508.0 L835.3 508.0 L835.9 505.1 L836.5 503.3 L837.1 502.4 L837.8 500.5 L838.4 499.0 L839.1 497.2 L839.7 495.2 L840.4 494.5 L841.0 493.1 L841.6 491.1 L842.3 490.2 L842.8 488.4 L843.4 485.6 L844.0 484.8 L844.5 484.1 L845.1 481.2 L845.6 480.4 L846.2 478.9 L846.7 477.1 L847.3 475.2 L847.9 474.5 L848.5 472.0 L849.1 470.4 L849.7 468.5 L850.3 467.3 L850.8 466.1 L851.5 464.0 L852.1 461.6 L852.8 461.5 L853.4 459.1 L854.1 457.1 L854.9 456.2 L855.6 452.7 L856.4 453.1 L857.1 451.7 L857.9 450.8 L858.7 449.6 L859.5 447.5 L860.3 445.6 L861.1 444.1 L861.9 442.7 L862.7 441.2 L863.5 439.5 L864.4 437.8 L865.2 436.8 L866.0 435.5 L866.8 433.6 L867.7 432.6 L868.5 431.1 L869.4 430.2 L870.2 428.8 L871.1 426.0 L872.0 425.0 L872.9 423.3 L873.8 422.1 L874.7 420.4 L875.6 419.7 L876.5 418.2 L877.4 416.2 L878.3 414.2 L879.2 413.0 L880.2 412.3 L881.1 410.4 L882.1 409.6 L883.0 406.3 L884.0 406.7 L884.9 405.7 L885.9 403.9 L886.9 402.1 L887.8 401.4 L888.8 399.3 L889.8 398.5 L890.8 396.3 L891.8 395.4 L892.9 394.8 L893.9 392.2 L894.9 390.5 L896.0 390.0 L897.0 389.7 L898.1 387.0 L899.1 386.0 L900.2 384.3 L901.3 383.6 L902.4 382.1 L903.4 380.5 L904.5 380.0 L905.6 377.6 L906.7 375.6 L907.8 375.4 L909.0 374.2 L910.1 374.4 L911.2 370.6 L912.3 369.8 L913.4 368.3 L914.6 367.9 L915.7 366.7 L916.8 364.7 L918.0 364.7 L919.1 362.8 L920.3 361.4 L921.5 359.4 L922.7 359.2 L923.9 357.8 L925.1 356.1 L926.3 356.9 L927.5 353.9 L928.8 352.3 L930.1 351.7 L931.3 351.3 L932.6 349.7 L933.9 348.6 L935.2 347.5 L936.5 347.1 L937.9 345.7 L939.2 344.8 L940.5 343.8 L941.9 342.2 L943.2 341.4 L944.6 339.6 L945.9 338.4 L947.3 337.4 L948.7 338.2 L950.0 335.9 L951.4 335.6 L952.8 333.6 L954.2 333.9 L955.6 332.4 L957.0 331.0 L958.4 330.0 L959.8 328.6 L961.2 328.7 L962.7 327.6 L964.1 326.4 L965.5 326.0 L967.0 325.0 L968.4 324.7 L969.8 321.4 L971.2 321.8 L972.6 320.3 L974.1 319.6 L975.5 318.9 L976.9 318.3 L978.3 316.8 L979.7 316.6 L981.1 315.2 L982.6 315.0 L984.0 313.7 L985.4 312.0 L986.8 312.0 L988.2 311.3 L989.6 309.5 L991.1 307.9 L992.5 307.5 L993.9 307.0 L995.3 305.2 L996.7 304.6 L998.1 304.1 L999.6 303.6 L1001.1 302.8 L1002.7 301.5 L1004.2 300.1 L1005.7 300.4 L1007.3 298.3 L1008.8 298.9 L1010.3 297.6 L1011.8 296.6 L1013.3 297.1 L1014.8 295.9 L1016.3 294.3 L1017.8 294.6 L1019.3 293.0 L1020.7 292.4 L1022.2 291.8 L1023.6 290.6 L1025.1 289.4 L1026.5 289.0 L1028.0 287.8 L1029.4 286.9 L1030.9 287.5 L1032.3 285.5 L1033.8 284.8 L1035.2 282.9 L1036.7 282.8 L1038.1 283.0 L1039.6 281.6 L1041.0 280.0 L1042.5 278.7 L1044.0 278.9 L1045.5 278.4 L1047.0 276.7 L1048.5 276.4 L1050.0 274.4 L1051.5 274.1 L1053.0 273.4 L1054.5 271.7 L1056.1 272.8 L1057.6 271.3 L1059.1 270.0 L1060.7 269.7 L1062.3 269.6 L1063.8 268.7 L1065.4 268.8 L1067.0 266.0 L1068.6 267.5 L1070.2 265.5 L1071.9 266.1 L1073.5 264.8 L1075.1 264.8 L1076.8 264.4 L1078.4 263.9 L1080.1 263.8 L1081.8 263.3 L1083.5 263.0 L1085.2 262.8 L1086.8 263.1 L1088.5 261.9 L1090.2 263.0 L1091.9 262.2 L1093.6 263.4 L1095.3 262.8 L1097.0 263.6 L1098.7 263.1 L1100.3 263.2 L1102.0 264.0 L1103.7 264.9 L1105.4 264.4 L1107.1 265.2 L1108.8 264.1 L1110.5 265.3 L1112.2 266.3 L1113.9 265.2 L1115.6 264.9 L1117.2 263.5 L1118.9 264.0 L1120.5 262.8 L1122.2 263.6 L1123.8 262.5 L1125.4 262.5 L1127.0 261.8 L1128.6 260.3 L1130.2 260.0 L1131.8 260.4 L1133.4 259.0 L1134.9 259.7 L1136.5 257.2 L1138.1 255.8 L1139.6 255.0 L1141.2 255.1 L1142.8 255.8 L1144.4 254.3 L1145.9 253.7 L1147.5 252.6 L1149.1 252.7 L1150.7 252.1 L1152.2 250.2 L1153.8 250.6 L1155.4 251.0 L1157.0 250.7 L1158.6 250.3 L1160.2 248.2 L1161.8 248.2 L1163.4 247.7 L1165.0 246.0 L1166.7 246.5 L1168.3 245.9 L1169.9 245.0 L1171.4 244.7 L1173.0 243.4 L1174.5 243.6 L1176.0 241.3 L1177.4 242.2 L1178.9 240.4 L1180.2 239.6 L1181.6 238.2 L1183.0 237.4 L1184.3 237.2 L1185.6 234.7 L1186.9 233.7 L1188.2 233.1 L1189.5 232.6 L1190.8 231.2 L1192.0 229.4 L1193.3 227.6 L1194.5 228.0 L1195.8 225.4 L1196.9 225.2 L1198.0 222.4 L1199.1 222.7 L1200.3 220.7 L1201.6 219.8 L1203.0 218.7 L1204.5 218.7 L1206.0 216.6 L1207.6 215.9 L1209.2 216.6 L1210.8 215.7 L1212.5 213.7 L1214.0 214.5 L1215.6 214.2 L1217.2 213.3 L1218.7 212.9 L1220.2 211.7 L1221.8 211.0 L1223.3 210.1 L1224.8 209.4 L1226.2 208.2 L1227.7 208.4 L1229.2 207.2 L1230.7 205.7 L1232.2 203.9 L1233.6 202.3 L1235.1 203.2 L1236.6 204.4 L1238.1 202.0 L1239.5 200.8 L1241.0 199.0 L1242.4 199.7 L1243.9 197.5 L1245.4 198.6 L1246.8 195.5 L1248.2 195.5 L1249.7 194.5 L1251.1 194.2 L1252.6 192.1 L1254.0 192.4 L1255.5 190.7 L1256.9 191.0 L1258.4 189.2 L1259.8 188.2 L1261.2 187.5 L1262.5 186.1 L1263.8 185.9 L1265.0 184.6 L1266.2 183.2 L1267.2 181.1 L1268.2 178.9 L1269.3 179.2 L1270.3 177.5 L1271.4 176.1 L1272.6 174.9 L1273.9 173.5 L1275.3 172.4 L1276.7 172.3 L1278.1 171.6 L1279.5 169.9 L1281.0 169.0 L1282.4 169.3 L1283.8 167.3 L1285.2 166.0 L1286.6 166.1 L1288.0 164.6 L1289.4 164.3 L1290.8 162.5 L1292.2 160.4 L1293.5 160.5 L1294.9 159.9 L1296.2 159.1 L1297.5 156.4 L1298.7 156.6 L1299.9 154.6 L1301.1 153.6 L1302.4 153.6 L1303.8 151.5 L1305.3 150.4 L1306.8 151.0 L1308.3 149.8 L1310.0 149.8 L1311.6 149.0 L1313.3 147.7 L1315.0 148.0 L1316.7 148.2 L1318.4 147.7 L1320.1 148.4 L1321.8 148.8 L1323.5 148.6 L1325.2 147.0 L1326.8 147.8 L1328.4 148.7 L1330.0 149.5 L1331.6 150.2 L1333.3 150.1 L1334.9 151.4 L1336.5 151.2 L1338.2 152.8 L1339.8 151.7 L1341.4 153.5 L1343.0 153.6 L1344.7 152.8 L1346.3 154.8 L1347.9 155.7 L1349.6 156.1 L1351.2 157.4 L1352.8 156.0 L1354.5 156.7 L1356.1 157.9 L1357.7 158.1 L1359.4 159.0 L1361.0 159.1 L1362.6 159.0 L1364.2 159.7 L1365.7 160.0 L1367.3 160.6 L1368.9 161.5 L1370.5 162.6 L1372.0 162.5 L1373.5 163.4 L1375.1 165.8 L1376.6 164.1 L1378.1 166.1 L1379.5 166.8 L1381.0 168.0 L1382.4 167.6 L1383.7 169.4 L1385.1 171.3 L1386.4 171.1 L1387.7 173.3 L1389.0 175.7 L1390.3 175.3 L1391.5 176.7 L1392.7 177.7 L1393.9 179.1 L1395.1 181.5 L1396.2 181.9 L1397.3 183.9 L1398.4 184.7 L1399.5 185.2 L1400.5 187.0 L1401.5 188.1 L1402.5 189.6 L1403.4 189.3 L1404.3 193.9 L1405.1 194.1 L1406.0 195.9 L1406.8 196.5 L1407.6 198.9 L1408.4 200.5 L1409.1 201.0 L1409.9 201.8 L1410.6 204.2 L1411.3 206.2 L1412.0 206.8 L1412.6 209.6 L1413.2 211.7 L1413.7 212.1 L1414.3 213.2 L1414.8 215.3 L1415.2 217.9 L1415.7 218.4 L1416.1 220.7 L1416.5 222.3 L1417.0 224.5 L1417.4 224.3 L1417.8 227.2 L1418.2 229.0 L1418.6 230.3 L1419.0 232.2 L1419.4 234.5 L1419.7 234.3 L1420.1 236.9 L1420.5 238.2 L1420.8 240.0 L1421.2 242.4 L1421.5 243.8 L1421.9 246.0 L1422.2 247.2 L1422.6 249.6 L1422.9 250.5 L1423.2 252.0 L1423.6 254.5 L1423.9 255.0 L1424.2 257.4 L1424.6 258.8 L1424.9 260.2 L1425.2 261.5 L1425.5 263.0 L1425.8 265.3 L1426.1 266.7 L1426.4 269.3 L1426.7 270.0 L1427.0 272.4 L1427.3 273.5 L1427.6 274.2 L1427.8 276.2 L1428.1 279.3 L1428.4 280.7 L1428.6 282.6 L1428.9 283.0 L1429.2 285.9 L1429.4 286.7 L1429.7 288.8 L1429.9 291.3 L1430.1 293.1 L1430.4 294.0 L1430.6 294.7 L1430.8 297.2 L1431.0 298.2 L1431.2 301.0 L1431.4 302.0 L1431.7 304.5 L1431.9 304.9 L1432.1 307.5 L1432.4 309.7 L1432.6 310.2 L1432.9 312.4 L1433.2 312.4 L1433.5 316.1 L1433.7 317.9 L1434.0 319.1 L1434.3 320.7 L1434.6 320.9 L1434.9 324.5 L1435.2 325.3 L1435.5 326.2 L1435.8 329.6 L1436.0 331.4 L1436.3 332.3 L1436.6 335.4 L1436.8 336.4 L1437.1 337.2 L1437.4 339.6 L1437.6 341.2 L1437.9 343.4 L1438.1 343.1 L1438.4 344.7 L1438.7 347.7 L1438.9 348.5 L1439.2 351.0 L1439.4 352.4 L1439.6 354.4 L1439.9 356.3 L1440.1 357.3 L1440.3 359.1 L1440.5 361.6 L1440.7 362.6 L1440.9 364.0 L1441.1 366.2 L1441.3 367.9 L1441.5 370.6 L1441.7 370.8 L1441.8 372.8 L1442.0 373.6 L1442.2 376.2 L1442.3 377.6 L1442.5 380.8 L1442.6 381.3 L1442.8 382.7 L1442.9 383.3 L1443.1 386.7 L1443.2 388.7 L1443.4 389.1 L1443.5 390.5 L1443.7 393.5 L1443.8 395.7 L1444.0 397.0 L1444.1 397.5 L1444.2 400.7 L1444.4 401.4 L1444.5 404.3 L1444.6 404.6 L1444.8 406.7 L1444.9 408.6 L1445.0 411.1 L1445.1 412.6 L1445.3 414.5 L1445.4 416.3 L1445.5 417.2 L1445.6 418.2 L1445.7 419.8 L1445.8 421.7 L1445.9 424.1 L1446.0 423.5 L1446.1 427.2 L1446.2 428.8 L1446.3 430.0 L1446.4 431.7 L1446.4 433.5 L1446.5 435.7 L1446.6 437.3 L1446.7 439.6 L1446.8 439.4 L1446.8 442.6 L1446.9 445.0 L1447.0 445.4 L1447.1 446.8 L1447.2 448.6 L1447.2 451.5 L1447.3 453.4 L1447.4 455.7 L1447.5 455.2 L1447.6 458.1 L1447.7 457.9 L1447.8 460.9 L1447.9 462.0 L1448.0 464.8 L1448.0 467.1 L1448.1 468.3 L1448.2 469.6 L1448.3 471.9 L1448.4 472.3 L1448.5 474.1 L1448.6 474.7 L1448.6 478.0 L1448.7 479.9 L1448.8 482.2 L1448.8 483.4 L1448.9 484.8 L1448.9 487.2 L1449.0 488.2 L1449.0 490.0 L1449.1 491.6 L1449.1 494.1 L1449.2 494.6 L1449.2 496.0 L1449.3 497.9 L1449.3 500.0 L1449.4 502.7 L1449.4 505.0 L1449.4 505.1 L1449.5 507.4 L1449.5 508.7 L1449.6 510.8 L1449.6 511.4 L1449.7 513.1 L1449.7 516.7 L1449.7 516.4 L1449.8 517.8 L1449.8 521.0 L1449.9 522.1 L1449.9 524.4 L1449.9 525.2 L1450.0 526.9 L1450.0 529.7 L1450.0 532.2 L1450.1 532.1 L1450.1 534.1 L1450.2 535.8 L1450.2 538.6 L1450.2 539.7 L1450.3 541.8 L1450.3 542.5 L1450.4 543.5 L1450.4 545.6 L1450.5 547.4 L1450.5 549.4 L1450.6 551.6 L1450.7 552.4 L1450.7 554.3 L1450.8 556.5 L1450.8 557.3 L1450.9 560.5 L1451.0 561.8 L1451.0 562.8 L1451.1 564.4 L1451.2 566.3 L1451.2 568.8 L1451.3 569.5 L1451.3 572.9 L1451.3 572.9 L1451.4 574.7 L1451.4 576.5 L1451.4 577.8 L1451.4 581.4 L1451.4 582.9 L1451.4 583.2 L1451.4 584.7 L1451.4 588.0 L1451.3 588.0 L1451.3 589.8 L1451.3 591.6 L1451.2 594.2 L1451.2 595.0 L1451.2 597.7 L1451.1 598.9 L1451.1 600.4 L1451.1 601.4"/>
<path stroke="#ffff00" d="M815.0 545.1 L815.4 544.5 L815.8 541.6 L816.2 539.3 L816.6 539.3 L817.0 536.3 L817.4 534.9 L817.8 533.7 L818.2 531.5 L818.6 530.1 L819.0 528.6 L819.5 527.9 L819.9 524.8 L820.4 524.8 L820.9 523.0 L821.4 520.3 L821.9 519.3 L822.4 515.7 L822.9 514.8 L823.4 512.8 L823.9 512.4 L824.5 510.5 L825.0 508.7 L825.5 507.0 L826.0 506.6 L826.6 505.7 L827.1 503.3 L827.7 500.3 L828.2 499.3 L828.8 497.9 L829.4 496.0 L830.0 494.8 L830.5 492.9 L831.2 491.7 L831.8 490.7 L832.4 487.8 L833.0 487.1 L833.7 484.8 L834.3 483.9 L835.0 481.4 L835.7 479.6 L836.4 478.5 L837.1 477.4 L837.8 475.6 L838.5 474.1 L839.2 473.4 L839.9 470.2 L840.6 470.1 L841.3 468.3 L842.1 465.3 L842.8 465.1 L843.5 463.1 L844.2 462.3 L844.9 461.0 L845.6 459.7 L846.3 457.6 L847.0 455.5 L847.7 453.8 L848.4 452.9 L849.2 451.2 L849.9 448.9 L850.7 448.8 L851.5 446.8 L852.2 445.2 L853.0 442.9 L853.8 441.6 L854.5 440.0 L855.3 439.0 L856.1 436.5 L856.9 437.0 L857.7 435.1 L858.5 432.4 L859.3 430.9 L860.1 429.8 L860.9 428.1 L861.8 426.5 L862.6 425.7 L863.5 424.7 L864.4 423.5 L865.3 421.0 L866.2 421.0 L867.1 417.8 L868.0 416.9 L868.9 416.2 L869.8 414.6 L870.7 413.0 L871.7 411.8 L872.6 409.2 L873.6 409.2 L874.5 407.9 L875.5 405.8 L876.4 404.2 L877.4 402.2 L878.4 400.2 L879.4 400.0 L880.4 399.3 L881.4 396.2 L882.4 396.2 L883.5 394.9 L884.5 392.7 L885.6 391.2 L886.7 390.9 L887.8 389.7 L888.9 387.8 L890.0 386.1 L891.1 384.9 L892.2 383.4 L893.4 382.3 L894.5 381.3 L895.7 380.4 L896.8 378.9 L898.0 378.1 L899.1 375.5 L900.3 375.2 L901.5 374.0 L902.6 373.6 L903.8 371.8 L905.0 370.5 L906.2 368.8 L907.4 367.6 L908.6 366.8 L909.8 364.7 L911.0 364.2 L912.2 362.9 L913.4 361.4 L914.7 361.2 L915.9 358.8 L917.1 356.8 L918.4 357.4 L919.6 355.9 L920.8 355.6 L922.1 353.9 L923.3 353.0 L924.6 351.6 L925.9 351.5 L927.1 348.5 L928.4 348.7 L929.7 346.2 L930.9 344.8 L932.2 344.6 L933.5 343.2 L934.8 342.1 L936.1 341.5 L937.4 339.8 L938.7 339.0 L940.0 337.8 L941.3 337.0 L942.6 335.0 L944.0 336.6 L945.3 334.3 L946.6 332.2 L948.0 332.0 L949.3 329.7 L950.7 329.7 L952.0 329.6 L953.4 327.4 L954.8 326.5 L956.1 326.7 L957.5 325.3 L958.9 324.0 L960.3 323.0 L961.7 322.4 L963.1 320.8 L964.5 320.9 L966.0 319.4 L967.4 317.9 L968.9 318.1 L970.3 315.6 L971.8 316.3 L973.3 315.1 L974.8 313.7 L976.2 313.3 L977.7 311.9 L979.2 310.8 L980.7 310.1 L982.2 309.8 L983.7 309.6 L985.2 307.9 L986.7 307.3 L988.2 307.1 L989.6 305.6 L991.1 304.5 L992.5 304.5 L993.9 302.7 L995.3 302.6 L996.9 301.8 L997.9 302.2 L998.1 304.7 L998.6 306.5 L1000.0 305.9 L1001.6 305.6 L1003.0 303.7 L1004.4 303.8 L1005.8 302.6 L1007.1 301.4 L1008.5 301.3 L1010.0 300.7 L1011.5 299.7 L1013.2 299.2 L1014.9 299.8 L1016.5 299.1 L1018.2 299.2 L1019.9 300.6 L1021.6 300.0 L1023.3 300.6 L1025.0 299.9 L1026.7 300.3 L1028.4 299.9 L1030.0 299.3 L1031.5 298.5 L1032.4 296.8 L1032.8 295.0 L1033.0 293.9 L1033.5 291.9 L1034.7 291.3 L1036.4 290.6 L1038.1 290.0 L1039.7 291.2 L1041.4 291.8 L1043.1 292.2 L1044.8 292.5 L1046.4 291.8 L1048.0 290.8 L1049.4 289.9 L1050.8 289.8 L1052.3 289.2 L1053.9 286.2 L1055.4 287.0 L1056.9 286.3 L1058.5 285.1 L1060.0 285.0 L1061.6 284.9 L1063.1 282.0 L1064.7 282.0 L1066.2 281.5 L1067.8 282.1 L1069.4 280.1 L1071.0 279.4 L1072.6 280.1 L1074.3 279.3 L1075.9 278.0 L1077.5 278.5 L1079.2 278.7 L1080.8 277.6 L1082.5 276.9 L1084.1 276.4 L1085.8 275.3 L1087.4 276.4 L1089.1 275.9 L1090.8 275.0 L1092.4 274.7 L1094.1 274.6 L1095.8 275.3 L1097.5 274.5 L1099.1 273.6 L1100.8 272.2 L1102.5 272.5 L1104.2 273.0 L1105.9 272.2 L1107.6 272.6 L1109.2 272.0 L1110.9 272.3 L1112.6 272.6 L1114.3 272.0 L1116.0 271.2 L1117.7 271.4 L1119.4 271.1 L1121.0 269.7 L1122.7 269.8 L1124.4 269.0 L1126.1 269.1 L1127.7 270.1 L1129.4 269.7 L1131.1 268.8 L1132.7 268.7 L1134.4 267.7 L1136.0 267.2 L1137.7 267.8 L1139.3 268.2 L1141.0 267.3 L1142.6 265.6 L1144.3 266.3 L1145.9 264.0 L1147.6 264.7 L1149.2 264.9 L1150.9 262.7 L1152.5 264.6 L1154.2 263.8 L1155.8 262.5 L1157.5 262.5 L1159.2 262.7 L1160.8 262.5 L1162.4 261.3 L1164.1 261.0 L1165.7 261.6 L1167.3 259.9 L1169.0 258.3 L1170.6 258.0 L1172.2 258.6 L1173.8 257.1 L1175.4 256.7 L1177.0 256.4 L1178.6 256.1 L1180.2 254.9 L1181.7 253.5 L1183.3 255.3 L1184.9 252.8 L1186.4 252.0 L1188.0 252.2 L1189.5 249.9 L1191.1 251.2 L1192.6 248.5 L1194.1 248.5 L1195.6 247.8 L1197.1 247.5 L1198.6 247.6 L1200.1 245.4 L1201.5 243.3 L1203.0 243.5 L1204.4 242.5 L1205.8 241.9 L1207.3 241.3 L1208.7 240.0 L1210.2 238.3 L1211.7 238.6 L1213.2 236.7 L1214.6 237.9 L1216.1 237.1 L1217.6 235.2 L1219.1 234.3 L1220.6 232.7 L1222.1 232.2 L1223.6 231.9 L1225.1 232.1 L1226.6 230.4 L1228.1 230.3 L1229.7 228.8 L1231.3 228.4 L1232.9 227.8 L1234.5 226.3 L1236.0 226.2 L1237.6 225.6 L1239.1 224.4 L1240.6 224.7 L1242.2 223.9 L1243.7 223.4 L1245.3 222.7 L1246.8 221.4 L1248.4 220.0 L1249.9 220.0 L1251.5 219.8 L1253.1 218.7 L1254.7 218.4 L1256.3 216.8 L1257.9 216.0 L1259.5 216.6 L1261.1 215.9 L1262.8 214.7 L1264.4 215.3 L1266.0 215.5 L1267.7 214.1 L1269.4 214.0 L1271.0 213.9 L1272.7 212.9 L1274.4 212.8 L1276.1 213.3 L1277.7 213.1 L1279.4 211.6 L1281.0 211.3 L1282.6 210.6 L1284.2 210.0 L1285.8 209.8 L1287.4 210.3 L1289.0 208.8 L1290.6 208.3 L1292.2 207.8 L1293.8 207.3 L1295.4 207.1 L1297.0 206.1 L1298.7 205.1 L1300.3 205.8 L1301.9 204.8 L1303.6 205.2 L1305.2 203.6 L1306.8 202.4 L1308.5 203.6 L1310.1 202.4 L1311.7 202.0 L1313.3 201.4 L1314.9 200.6 L1316.4 199.6 L1318.0 198.1 L1319.6 198.1 L1321.1 197.6 L1322.7 197.4 L1324.3 196.2 L1325.9 196.8 L1327.4 194.3 L1329.0 193.3 L1330.6 194.4 L1332.1 192.9 L1333.7 193.0 L1335.3 191.7 L1336.9 191.0 L1338.5 190.1 L1340.1 189.8 L1341.7 189.1 L1343.3 189.8 L1345.0 188.9 L1346.6 187.3 L1348.3 187.5 L1349.9 187.5 L1351.6 185.7 L1353.2 187.6 L1354.9 187.3 L1356.6 186.6 L1358.2 186.1 L1359.9 185.0 L1361.6 185.3 L1363.3 184.2 L1364.9 185.3 L1366.6 184.6 L1368.3 184.1 L1370.0 184.3 L1371.7 183.9 L1373.4 184.1 L1375.1 183.6 L1376.8 183.8 L1378.5 184.2 L1380.2 184.3 L1381.9 183.7 L1383.6 185.1 L1385.2 184.0 L1386.9 186.2 L1388.5 185.6 L1390.0 187.3 L1391.3 187.7 L1392.7 189.1 L1394.0 188.6 L1395.2 191.6 L1396.4 192.3 L1397.6 193.5 L1398.8 194.9 L1399.9 195.9 L1401.0 196.9 L1402.0 198.8 L1403.1 199.4 L1404.1 200.6 L1405.0 202.6 L1405.9 204.4 L1406.7 205.7 L1407.5 206.9 L1408.2 209.1 L1408.9 210.7 L1409.6 211.6 L1410.4 213.1 L1411.1 214.7 L1411.8 216.1 L1412.7 218.2 L1413.5 220.0 L1414.5 221.3 L1415.4 222.1 L1416.3 223.3 L1417.2 225.4 L1417.9 227.6 L1418.6 228.1 L1419.3 230.6 L1420.0 230.6 L1420.6 232.7 L1421.3 234.5 L1421.9 236.2 L1422.5 238.3 L1423.1 239.5 L1423.7 240.8 L1424.2 242.1 L1424.8 245.3 L1425.3 245.5 L1425.8 248.7 L1426.3 247.7 L1426.8 251.5 L1427.2 251.8 L1427.7 253.7 L1428.1 254.8 L1428.5 256.3 L1428.9 257.9 L1429.3 260.8 L1429.7 261.6 L1430.1 264.5 L1430.5 264.8 L1430.9 267.2 L1431.2 268.3 L1431.6 270.4 L1432.0 272.3 L1432.3 273.2 L1432.7 275.5 L1433.0 278.2 L1433.3 278.4 L1433.6 281.3 L1434.0 281.9 L1434.3 283.7 L1434.6 286.4 L1434.9 287.2 L1435.2 288.6 L1435.5 290.4 L1435.8 291.8 L1436.0 293.5 L1436.3 295.4 L1436.6 297.2 L1436.8 297.2 L1437.1 300.6 L1437.3 301.4 L1437.5 304.3 L1437.7 304.6 L1438.0 307.6 L1438.3 309.4 L1438.6 310.4 L1439.1 312.9 L1439.5 314.5 L1440.0 315.1 L1440.5 317.7 L1441.0 318.4 L1441.5 320.6 L1442.0 321.1 L1442.4 323.9 L1442.9 324.2 L1443.3 326.5 L1443.7 327.5 L1444.0 330.8 L1444.4 331.6 L1444.7 334.0 L1445.0 334.8 L1445.4 337.0 L1445.7 338.7 L1446.0 340.3 L1446.3 342.6 L1446.6 342.3 L1446.9 345.5 L1447.1 347.4 L1447.4 348.3 L1447.7 349.5 L1447.9 352.1 L1448.2 352.4 L1448.4 355.2 L1448.6 356.5 L1448.8 359.5 L1449.0 360.7 L1449.2 361.8 L1449.4 363.0 L1449.5 365.5 L1449.6 367.7 L1449.7 368.6 L1449.8 369.2 L1449.9 371.4 L1450.0 374.3 L1450.1 375.6 L1450.2 377.2 L1450.2 379.5 L1450.3 380.8 L1450.4 382.6 L1450.5 383.1 L1450.6 385.9 L1450.6 387.6 L1450.7 389.7 L1450.9 390.3 L1451.0 393.5 L1451.1 394.5 L1451.2 395.7 L1451.3 398.2 L1451.5 399.2 L1451.6 400.6 L1451.7 403.0 L1451.9 405.4 L1452.0 406.9 L1452.1 407.8 L1452.3 409.3 L1452.4 411.8 L1452.5 412.5 L1452.6 414.5 L1452.7 415.9 L1452.9 417.9 L1453.0 420.1 L1453.1 421.2 L1453.2 423.5 L1453.3 424.8 L1453.4 427.1 L1453.5 428.8 L1453.5 430.1 L1453.6 431.9 L1453.7 433.1 L1453.8 434.8 L1453.9 435.7 L1454.0 439.4 L1454.0 440.0 L1454.1 442.3 L1454.2 443.1 L1454.3 444.5 L1454.4 447.3 L1454.4 448.6 L1454.5 450.9 L1454.6 451.5 L1454.6 455.1 L1454.7 456.3 L1454.8 457.2 L1454.8 459.0 L1454.9 460.3 L1454.9 461.1 L1455.0 462.8 L1455.1 464.4 L1455.1 466.7 L1455.2 469.6 L1455.2 470.6 L1455.3 473.1 L1455.4 473.3 L1455.4 474.7 L1455.5 476.7 L1455.6 479.0 L1455.6 480.5 L1455.7 483.1 L1455.8 485.3 L1456.0 486.2 L1456.1 487.5 L1456.2 490.0 L1456.4 491.2 L1456.5 493.2 L1456.7 494.2 L1456.8 495.9 L1456.9 498.6 L1457.1 499.2 L1457.2 500.1 L1457.4 503.1 L1457.6 505.8 L1457.7 506.7 L1457.8 508.8 L1458.0 509.7 L1458.1 511.0 L1458.2 513.2 L1458.3 515.0 L1458.4 516.7 L1458.5 518.7 L1458.6 520.1 L1458.6 522.1 L1458.7 523.4 L1458.7 525.3 L1458.8 526.9 L1458.8 527.8 L1458.8 530.7 L1458.9 532.6 L1458.9 533.0 L1458.9 535.9 L1458.9 536.9 L1458.9 537.4 L1459.0 540.4 L1459.0 542.4 L1459.0 544.1 L1459.0 545.3 L1459.0 547.8 L1459.0 548.3 L1459.0 550.9 L1459.0 551.1 L1459.0 553.6 L1459.0 554.7 L1459.0 556.7 L1459.0 558.9 L1459.0 560.4 L1459.0 560.9 L1459.0 564.0 L1459.0 565.3 L1459.0 567.1 L1458.9 569.3 L1458.9 571.3 L1458.9 572.3 L1458.9 575.5 L1458.9 575.1 L1458.9 576.8 L1458.8 578.9 L1458.8 582.5 L1458.8 583.3 L1458.8 584.2 L1458.8 586.8 L1458.7 587.1 L1458.7 589.3 L1458.7 591.3 L1458.7 592.9 L1458.7 594.7 L1458.7 597.9 L1458.6 598.1 L1458.6 599.7 L1458.6 601.4"/>
<path stroke="#0000ff" d="M816.0 501.6 L816.1 500.7 L816.1 498.3 L816.1 495.5 L816.1 494.5 L816.1 494.0 L816.2 491.5 L816.3 489.1 L816.6 487.2 L816.9 485.3 L817.4 484.7 L818.0 482.5 L818.7 480.8 L819.5 480.2 L820.3 478.5 L821.1 476.5 L822.0 475.0 L822.8 473.9 L823.6 472.9 L824.4 471.6 L825.2 469.4 L826.0 468.0 L826.7 465.6 L827.5 464.4 L828.2 463.1 L829.0 461.8 L829.7 461.0 L830.5 459.6 L831.1 456.3 L831.7 455.6 L832.4 453.1 L833.2 451.6 L833.9 451.4 L834.8 449.3 L835.6 446.9 L836.4 446.7 L837.2 444.5 L838.1 444.6 L838.9 442.0 L839.8 440.6 L840.6 440.1 L841.5 437.3 L842.3 437.2 L843.2 435.4 L844.1 433.2 L844.9 432.6 L845.8 429.2 L846.7 428.5 L847.6 426.8 L848.6 425.7 L849.5 425.5 L850.4 423.3 L851.4 421.7 L852.3 420.5 L853.3 419.7 L854.3 418.5 L855.2 415.9 L856.2 415.1 L857.2 413.2 L858.2 412.3 L859.3 410.0 L860.3 409.6 L861.3 407.3 L862.4 407.1 L863.4 406.4 L864.5 404.0 L865.6 402.7 L866.7 401.4 L867.8 401.4 L868.9 399.2 L870.0 397.5 L871.2 397.0 L872.3 395.1 L873.5 393.3 L874.7 393.5 L875.9 391.8 L877.1 390.1 L878.3 389.5 L879.5 387.2 L880.7 385.7 L881.9 386.2 L883.1 383.8 L884.4 382.9 L885.6 382.7 L886.9 381.9 L888.1 380.0 L889.4 378.6 L890.7 377.8 L891.9 376.6 L893.2 375.8 L894.5 373.8 L895.8 373.5 L897.2 372.1 L898.5 372.3 L899.8 370.2 L901.2 369.3 L902.5 368.0 L903.9 366.6 L905.3 365.9 L906.7 365.3 L908.0 363.7 L909.4 362.6 L910.8 361.8 L912.2 361.8 L913.6 360.6 L915.0 358.7 L916.5 359.5 L917.9 358.5 L919.3 356.6 L920.8 356.0 L922.2 354.5 L923.7 354.4 L925.2 353.3 L926.6 351.4 L928.1 352.0 L929.6 350.8 L931.1 349.8 L932.6 348.6 L934.1 347.5 L935.6 348.5 L937.1 346.7 L938.6 346.0 L940.1 344.7 L941.6 344.8 L943.1 343.0 L944.6 343.3 L946.1 341.9 L947.7 340.5 L949.2 340.2 L950.7 340.0 L952.2 338.4 L953.8 337.7 L955.3 337.1 L956.8 336.8 L958.3 336.1 L959.9 335.2 L961.4 334.1 L962.9 333.1 L964.4 332.8 L966.0 332.3 L967.5 330.4 L969.0 329.6 L970.5 330.5 L972.1 329.5 L973.6 328.6 L975.1 328.5 L976.6 327.2 L978.2 325.8 L979.7 324.4 L981.2 325.3 L982.7 323.4 L984.2 322.4 L985.7 322.0 L987.2 322.1 L988.7 320.6 L990.2 319.5 L991.7 318.7 L993.1 317.3 L994.5 316.4 L995.9 315.0 L997.4 314.6 L998.9 314.2 L1000.4 313.9 L1001.9 312.0 L1003.5 312.2 L1005.0 311.2 L1006.6 310.1 L1008.2 309.7 L1009.8 309.3 L1011.4 308.9 L1013.0 307.8 L1014.6 308.8 L1016.2 307.6 L1017.8 307.7 L1019.4 305.9 L1021.0 305.2 L1022.7 304.6 L1024.3 304.1 L1025.9 304.6 L1027.6 303.6 L1029.2 302.9 L1030.9 302.0 L1032.5 303.1 L1034.2 301.9 L1035.8 301.2 L1037.5 301.5 L1039.1 300.8 L1040.8 300.9 L1042.4 299.0 L1044.1 299.5 L1045.7 299.4 L1047.4 299.0 L1049.0 298.7 L1050.7 298.5 L1052.3 297.7 L1054.0 297.7 L1055.6 297.5 L1057.3 295.8 L1058.9 295.0 L1060.5 295.3 L1062.2 294.3 L1063.8 294.5 L1065.4 294.8 L1067.0 293.2 L1068.6 293.3 L1070.2 292.0 L1071.8 292.2 L1073.4 291.4 L1075.0 290.7 L1076.6 289.6 L1078.1 289.5 L1079.7 288.8 L1081.3 287.6 L1082.8 287.5 L1084.4 286.7 L1086.0 287.0 L1087.6 286.1 L1089.1 284.3 L1090.7 284.1 L1092.4 283.7 L1094.0 283.1 L1095.6 282.7 L1097.2 281.7 L1098.9 281.0 L1100.5 281.3 L1102.1 279.7 L1103.8 280.7 L1105.4 279.0 L1107.0 279.2 L1108.7 278.8 L1110.3 277.9 L1111.9 278.0 L1113.5 276.7 L1115.1 276.9 L1116.8 276.3 L1118.4 276.4 L1120.1 275.8 L1121.7 274.7 L1123.4 274.9 L1125.1 274.6 L1126.8 274.4 L1128.5 274.9 L1130.1 273.4 L1131.8 275.7 L1133.5 275.4 L1135.2 275.1 L1136.9 275.4 L1138.5 275.6 L1140.1 273.8 L1141.6 273.6 L1143.2 273.7 L1144.8 272.3 L1146.5 273.0 L1148.2 271.0 L1149.9 271.4 L1151.6 271.8 L1153.2 273.8 L1154.9 273.8 L1156.5 273.6 L1158.2 274.6 L1159.9 273.2 L1161.6 273.3 L1163.3 274.6 L1164.9 273.6 L1166.6 272.8 L1168.2 272.3 L1169.8 271.1 L1171.4 270.1 L1173.0 271.4 L1174.6 269.7 L1176.1 269.1 L1177.7 269.3 L1179.3 269.1 L1180.9 267.5 L1182.6 267.1 L1184.2 268.7 L1185.9 270.0 L1187.5 271.5 L1189.2 269.6 L1190.9 270.4 L1192.6 268.7 L1194.2 268.4 L1195.8 267.1 L1197.4 267.3 L1199.0 266.0 L1200.6 265.1 L1202.1 264.8 L1203.7 265.0 L1205.3 263.6 L1206.8 262.4 L1208.3 261.8 L1209.8 260.8 L1211.3 260.6 L1212.8 258.6 L1214.3 258.4 L1215.8 258.8 L1217.3 257.3 L1218.8 255.3 L1220.4 256.1 L1221.5 257.3 L1223.0 257.5 L1224.2 257.5 L1225.4 255.3 L1226.4 253.5 L1227.6 252.6 L1228.8 250.9 L1230.1 250.8 L1231.6 249.1 L1233.1 248.3 L1234.8 248.7 L1236.4 248.5 L1238.1 248.0 L1239.8 248.6 L1241.4 247.1 L1243.1 247.2 L1244.8 246.5 L1246.5 245.8 L1248.2 245.8 L1249.8 246.0 L1251.4 245.9 L1253.1 244.5 L1254.7 244.5 L1256.3 244.2 L1257.9 243.2 L1259.4 242.2 L1261.0 242.1 L1262.6 240.8 L1264.2 240.3 L1265.9 239.7 L1267.5 239.8 L1269.2 240.2 L1270.8 239.8 L1272.5 238.2 L1274.1 238.1 L1275.8 238.7 L1277.4 237.1 L1279.1 236.7 L1280.7 235.8 L1282.2 234.6 L1283.8 234.4 L1285.3 235.7 L1286.8 233.7 L1288.3 231.9 L1289.8 231.4 L1291.3 231.4 L1292.8 230.6 L1294.3 229.8 L1295.9 228.6 L1297.4 229.4 L1299.0 228.2 L1300.6 226.4 L1302.2 225.5 L1303.7 224.5 L1305.3 225.0 L1306.9 224.8 L1308.5 223.9 L1310.1 223.5 L1311.6 222.6 L1313.2 221.3 L1314.7 220.5 L1316.2 221.1 L1317.7 218.9 L1319.2 218.3 L1320.6 218.0 L1322.1 217.7 L1323.5 215.9 L1324.9 214.3 L1326.3 214.6 L1327.7 212.4 L1329.1 211.3 L1330.5 210.3 L1331.9 209.9 L1333.4 209.2 L1334.8 208.0 L1336.2 207.6 L1337.6 206.3 L1339.0 205.1 L1340.4 204.8 L1341.9 203.7 L1343.3 203.3 L1344.7 202.5 L1346.2 201.1 L1347.6 199.6 L1349.0 199.4 L1350.5 197.9 L1351.9 197.9 L1353.4 196.4 L1354.8 194.8 L1356.3 194.2 L1357.7 193.5 L1359.2 192.3 L1360.7 192.3 L1362.2 191.1 L1363.6 190.3 L1365.1 189.7 L1366.6 189.6 L1368.0 188.3 L1369.5 186.4 L1371.0 185.1 L1372.6 184.7 L1374.2 185.3 L1375.9 185.0 L1377.6 184.1 L1379.2 184.6 L1380.9 185.2 L1382.5 185.4 L1384.1 186.1 L1385.7 186.5 L1387.3 187.8 L1388.8 189.1 L1390.3 189.7 L1391.9 190.1 L1393.6 189.9 L1395.1 188.4 L1396.4 187.9 L1398.0 188.3 L1399.4 188.6 L1400.4 189.9 L1401.3 191.8 L1402.1 192.0 L1402.9 194.1 L1403.7 195.3 L1404.5 197.5 L1405.4 199.8 L1406.3 199.7 L1407.2 202.1 L1408.2 203.3 L1409.1 205.9 L1410.0 205.7 L1410.9 206.5 L1411.7 209.1 L1412.5 209.8 L1413.3 211.7 L1414.1 213.1 L1414.8 215.0 L1415.5 216.2 L1416.2 217.2 L1416.9 218.5 L1417.5 221.7 L1418.1 222.7 L1418.7 223.7 L1419.3 225.4 L1419.8 227.2 L1420.3 228.4 L1420.8 230.3 L1421.3 231.9 L1421.7 234.7 L1422.2 235.1 L1422.6 237.3 L1423.0 239.0 L1423.4 240.4 L1423.8 242.7 L1424.2 243.8 L1424.6 245.5 L1425.0 247.6 L1425.4 248.7 L1425.7 250.7 L1426.1 251.1 L1426.5 254.4 L1426.8 253.8 L1427.2 257.2 L1427.5 258.4 L1427.9 260.6 L1428.2 261.2 L1428.6 263.5 L1428.9 265.2 L1429.2 266.4 L1429.6 269.1 L1429.9 271.5 L1430.2 272.8 L1430.5 273.4 L1430.9 275.8 L1431.2 277.4 L1431.5 279.0 L1431.9 280.8 L1432.2 282.0 L1432.5 283.8 L1432.9 284.5 L1433.2 286.9 L1433.6 287.6 L1433.9 288.9 L1434.2 293.2 L1434.6 293.0 L1434.8 295.6 L1435.1 297.8 L1435.4 298.4 L1435.6 301.6 L1435.8 302.4 L1436.0 304.7 L1436.2 306.4 L1436.5 307.2 L1436.8 308.8 L1437.2 312.0 L1437.5 311.6 L1437.9 312.8 L1438.4 313.8 L1438.8 317.4 L1439.3 318.9 L1439.7 320.4 L1440.1 321.7 L1440.5 323.5 L1440.9 325.1 L1441.3 328.5 L1441.6 329.9 L1442.0 330.9 L1442.3 331.3 L1442.6 333.8 L1442.9 335.4 L1443.2 337.7 L1443.4 339.0 L1443.7 341.2 L1444.0 342.6 L1444.2 343.9 L1444.5 345.5 L1444.7 346.8 L1445.0 349.2 L1445.2 350.8 L1445.4 352.4 L1445.6 353.7 L1445.9 354.8 L1446.1 358.6 L1446.3 359.2 L1446.5 359.7 L1446.6 361.8 L1446.8 364.2 L1447.0 366.0 L1447.1 367.8 L1447.3 368.8 L1447.4 370.6 L1447.5 372.9 L1447.7 374.8 L1447.8 376.6 L1447.9 377.5 L1448.0 380.2 L1448.1 381.3 L1448.2 383.0 L1448.3 385.7 L1448.5 386.2 L1448.6 387.3 L1448.7 388.8 L1448.8 390.5 L1448.9 393.3 L1449.0 394.3 L1449.1 396.7 L1449.1 397.8 L1449.2 400.1 L1449.3 401.5 L1449.4 402.4 L1449.5 405.0 L1449.6 405.8 L1449.6 408.5 L1449.7 409.8 L1449.8 412.7 L1449.9 413.0 L1449.9 415.6 L1450.0 417.0 L1450.1 418.9 L1450.2 420.4 L1450.3 422.0 L1450.4 422.3 L1450.5 425.0 L1450.5 427.1 L1450.6 430.1 L1450.7 430.7 L1450.8 430.7 L1450.9 433.3 L1451.0 436.2 L1451.1 436.9 L1451.1 438.6 L1451.2 441.2 L1451.3 442.7 L1451.4 444.3 L1451.5 445.6 L1451.6 448.2 L1451.6 448.0 L1451.7 450.3 L1451.8 451.9 L1451.9 454.3 L1451.9 454.8 L1452.0 458.1 L1452.1 460.3 L1452.1 459.9 L1452.2 463.9 L1452.3 465.2 L1452.3 467.1 L1452.4 466.8 L1452.5 469.9 L1452.5 471.0 L1452.6 472.6 L1452.7 474.1 L1452.7 475.8 L1452.8 477.7 L1452.9 478.9 L1453.0 480.6 L1453.1 482.4 L1453.2 483.3 L1453.3 487.5 L1453.4 487.7 L1453.5 490.9 L1453.6 491.1 L1453.8 492.3 L1453.9 494.8 L1454.0 497.2 L1454.1 498.2 L1454.3 499.7 L1454.4 502.1 L1454.6 504.5 L1454.7 506.4 L1454.9 507.0 L1455.0 508.5 L1455.1 510.4 L1455.2 511.7 L1455.3 512.5 L1455.5 514.5 L1455.5 516.3 L1455.6 518.4 L1455.7 520.2 L1455.8 522.3 L1455.8 523.3 L1455.9 525.8 L1455.9 526.4 L1455.9 528.7 L1456.0 529.9 L1456.0 533.4 L1456.0 533.1 L1456.1 534.9 L1456.1 536.3 L1456.1 538.0 L1456.1 541.1 L1456.2 541.7 L1456.2 543.7 L1456.2 546.5 L1456.2 547.7 L1456.3 550.0 L1456.3 550.7 L1456.3 552.5 L1456.3 553.6 L1456.4 555.3 L1456.4 557.7 L1456.4 560.1 L1456.5 560.0 L1456.5 562.6 L1456.6 564.0 L1456.6 566.4 L1456.7 567.2 L1456.7 569.4 L1456.8 570.7 L1456.8 573.5 L1456.9 575.1 L1456.9 576.1 L1457.0 578.1 L1457.0 578.7 L1457.0 581.3 L1457.0 583.3 L1457.0 585.3 L1456.9 586.1 L1456.9 586.9 L1456.8 589.0 L1456.7 591.8 L1456.6 593.5 L1456.5 595.0 L1456.4 596.4 L1456.3 598.3 L1456.2 600.1 L1456.1 601.4"/>
</g>
<g transform="translate(791.2 73.6) scale(0.930 1)"><text x="-57.71" font-size="34.6">100</text><path fill="#fefefe" d="M-56.16 0.42h7.08v-3.74h-7.08zM-45.97 0.42h6.92v-3.74h-6.92z"/></g>
<g transform="translate(791.2 181.6) scale(0.930 1)"><text x="-38.48" font-size="34.6">80</text></g>
<g transform="translate(791.2 289.7) scale(0.930 1)"><text x="-38.48" font-size="34.6">60</text></g>
<g transform="translate(791.2 397.7) scale(0.930 1)"><text x="-38.48" font-size="34.6">40</text></g>
<g transform="translate(791.2 505.8) scale(0.930 1)"><text x="-38.48" font-size="34.6">20</text></g>
<g transform="translate(791.2 613.8) scale(0.930 1)"><text x="-19.24" font-size="34.6">0</text></g>
<g transform="translate(812.9 657.3) scale(0.930 1)"><text x="-9.51" font-size="34.2">0</text></g>
<g transform="translate(954.5 657.3) scale(0.930 1)"><text x="-19.02" font-size="34.2">10</text><path fill="#fefefe" d="M-17.48 0.41h6.99v-3.69h-6.99zM-7.40 0.41h6.84v-3.69h-6.84z"/></g>
<g transform="translate(1096.1 657.3) scale(0.930 1)"><text x="-19.02" font-size="34.2">20</text></g>
<g transform="translate(1237.7 657.3) scale(0.930 1)"><text x="-19.02" font-size="34.2">30</text></g>
<g transform="translate(1379.3 657.3) scale(0.930 1)"><text x="-19.02" font-size="34.2">40</text></g>
<g transform="translate(1520.9 657.3) scale(0.930 1)"><text x="-19.02" font-size="34.2">50</text></g>
<text class="sym" font-size="44.5" x="0" y="0" transform="translate(1103.4 714) scale(1.08 1)">π</text>
<text class="b" font-size="26.3" x="1142.7" y="713.1">[mN/m]</text>
<g transform="translate(722 370) rotate(-90)"><text font-size="30" transform="translate(-0.2 0.3) scale(1.08 1)">C</text><text font-size="20" x="20.6" y="9.2">s</text><text font-size="15" x="20.4" y="-11.8" fill="#555">−</text><g transform="translate(32 -12)"><text font-size="20">1</text><path fill="#fefefe" d="M0.90 0.24h4.09v-2.16h-4.09zM6.79 0.24h4.00v-2.16h-4.00z"/></g><text class="b" font-size="26.3" x="56" y="-2.5">[mN/m]</text></g>
</g>
</svg></body></html>
